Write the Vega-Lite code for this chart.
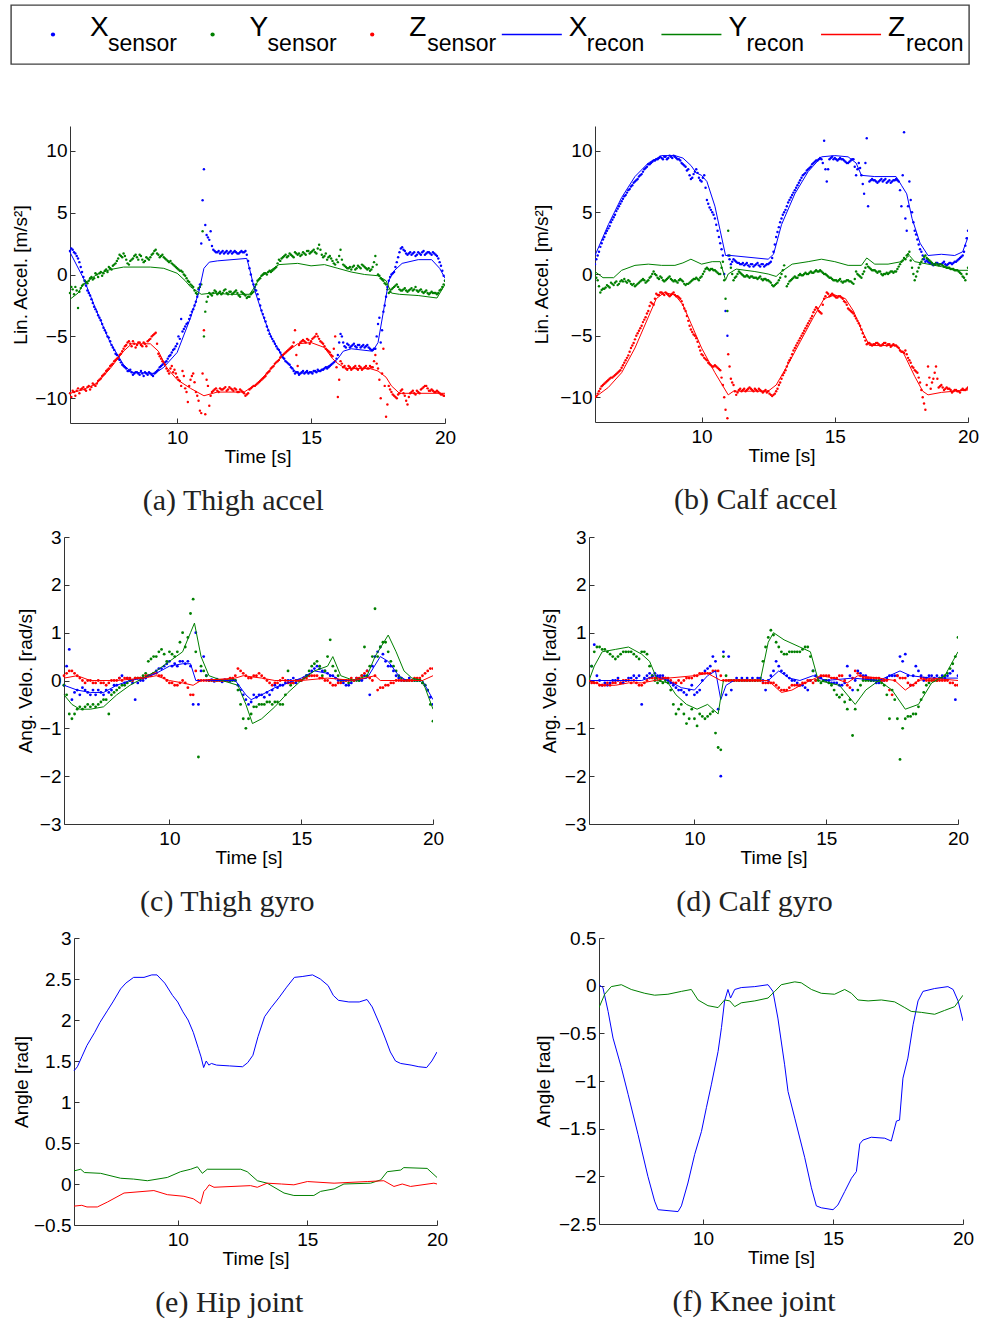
{
"$schema": "https://vega.github.io/schema/vega-lite/v6.json",
"background": "white",
"padding": {"left": 10, "top": 4, "right": 4, "bottom": 4},
"config": {
  "font": "Liberation Sans",
  "view": {"stroke": null},
  "axis": {"grid": false, "domainColor": "#333", "tickColor": "#333", "labelColor": "#000", "titleColor": "#000", "labelFont": "Liberation Sans", "titleFont": "Liberation Sans", "labelFontSize": 19, "titleFontSize": 19, "titleFontWeight": "normal", "tickSize": -5, "labelFlush": false, "labelOverlap": false, "format": "~g"},
  "axisX": {"labelPadding": 10, "titlePadding": 0},
  "axisY": {"labelPadding": 8},
  "title": {"font": "Liberation Serif", "fontSize": 30, "fontWeight": "normal", "color": "#222", "orient": "bottom", "anchor": "middle", "frame": "bounds", "offset": 20}
},
"datasets": {
"leg": [{"i":0,"c":"X","s":"sensor","g":"s"},{"i":1,"c":"Y","s":"sensor","g":"s"},{"i":2,"c":"Z","s":"sensor","g":"s"},{"i":3,"c":"X","s":"recon","g":"r"},{"i":4,"c":"Y","s":"recon","g":"r"},{"i":5,"c":"Z","s":"recon","g":"r"}],
"a_s": [
{"t":6.0,"X":1.9,"Y":-1.5,"Z":-9.6},{"t":6.1,"X":2.0,"Y":-1.2,"Z":-9.4},{"t":6.2,"X":1.7,"Y":-1.0,"Z":-9.8},{"t":6.3,"X":1.3,"Y":-2.7,"Z":-9.2},{"t":6.4,"X":0.6,"Y":-1.1,"Z":-9.3},{"t":6.5,"X":-0.2,"Y":-0.8,"Z":-9.1},{"t":6.6,"X":-0.9,"Y":-0.6,"Z":-9.4},{"t":6.7,"X":-1.5,"Y":-0.5,"Z":-9.0},{"t":6.8,"X":-2.0,"Y":-0.2,"Z":-9.1},{"t":6.9,"X":-2.6,"Y":-0.3,"Z":-8.9},
{"t":7.0,"X":-3.0,"Y":0.0,"Z":-8.8},{"t":7.1,"X":-3.5,"Y":0.1,"Z":-8.5},{"t":7.2,"X":-4.0,"Y":-0.1,"Z":-8.2},{"t":7.3,"X":-4.5,"Y":0.3,"Z":-8.0},{"t":7.4,"X":-5.0,"Y":0.2,"Z":-7.7},{"t":7.5,"X":-5.4,"Y":0.5,"Z":-7.4},{"t":7.6,"X":-5.9,"Y":0.7,"Z":-7.2},{"t":7.7,"X":-6.4,"Y":0.9,"Z":-6.9},{"t":7.8,"X":-6.8,"Y":1.3,"Z":-6.7},{"t":7.9,"X":-7.1,"Y":1.5,"Z":-6.4},
{"t":8.0,"X":-7.4,"Y":1.7,"Z":-6.0},{"t":8.1,"X":-7.6,"Y":1.2,"Z":-5.7},{"t":8.2,"X":-7.8,"Y":0.8,"Z":-5.4},{"t":8.3,"X":-7.9,"Y":1.2,"Z":-5.8},{"t":8.4,"X":-8.0,"Y":1.5,"Z":-5.6},{"t":8.5,"X":-7.9,"Y":1.4,"Z":-5.7},{"t":8.6,"X":-8.1,"Y":1.6,"Z":-5.5},{"t":8.7,"X":-8.0,"Y":1.2,"Z":-5.8},{"t":8.8,"X":-7.9,"Y":1.1,"Z":-5.6},{"t":8.9,"X":-8.1,"Y":1.3,"Z":-5.4},
{"t":9.0,"X":-8.0,"Y":1.4,"Z":-5.2},{"t":9.1,"X":-8.2,"Y":1.7,"Z":-4.9},{"t":9.2,"X":-7.9,"Y":2.0,"Z":-4.7},{"t":9.3,"X":-7.7,"Y":1.6,"Z":-6.4},{"t":9.4,"X":-7.4,"Y":1.5,"Z":-6.8},{"t":9.5,"X":-7.2,"Y":1.4,"Z":-7.1},{"t":9.6,"X":-7.0,"Y":1.2,"Z":-7.6},{"t":9.7,"X":-6.6,"Y":1.0,"Z":-8.0},{"t":9.8,"X":-6.3,"Y":0.9,"Z":-7.4},{"t":9.9,"X":-6.0,"Y":0.7,"Z":-7.7},
{"t":10.0,"X":-5.6,"Y":0.5,"Z":-8.3},{"t":10.1,"X":-5.2,"Y":0.3,"Z":-8.6},{"t":10.2,"X":-4.6,"Y":0.2,"Z":-7.8},{"t":10.3,"X":-4.2,"Y":-0.1,"Z":-9.2},{"t":10.4,"X":-3.9,"Y":-0.5,"Z":-10.3},{"t":10.5,"X":-3.3,"Y":-0.8,"Z":-8.5},{"t":10.6,"X":-2.8,"Y":-1.0,"Z":-8.0},{"t":10.7,"X":-2.2,"Y":-1.5,"Z":-9.5},{"t":10.8,"X":-1.2,"Y":-1.1,"Z":-10.2},{"t":10.9,"X":2.5,"Y":-0.8,"Z":-11.2},
{"t":10.95,"X":6.0,"Y":3.5,"Z":-8.0},{"t":11.0,"X":8.5,"Y":-5.0,"Z":-4.5},{"t":11.05,"X":4.0,"Y":-3.0,"Z":-11.3},
{"t":11.1,"X":3.2,"Y":-2.2,"Z":-8.5},{"t":11.2,"X":2.8,"Y":-1.5,"Z":-10.6},{"t":11.3,"X":2.3,"Y":-1.7,"Z":-9.5},{"t":11.4,"X":1.9,"Y":-1.3,"Z":-9.3},{"t":11.5,"X":1.8,"Y":-1.6,"Z":-9.4},{"t":11.6,"X":1.7,"Y":-1.4,"Z":-9.2},{"t":11.7,"X":1.9,"Y":-1.5,"Z":-9.3},{"t":11.8,"X":1.8,"Y":-1.2,"Z":-9.1},{"t":11.9,"X":1.7,"Y":-1.6,"Z":-9.3},
{"t":12.0,"X":1.9,"Y":-1.4,"Z":-9.2},{"t":12.1,"X":1.8,"Y":-1.5,"Z":-9.4},{"t":12.2,"X":1.8,"Y":-1.3,"Z":-9.3},{"t":12.3,"X":1.7,"Y":-1.7,"Z":-9.5},{"t":12.4,"X":1.9,"Y":-1.4,"Z":-9.4},{"t":12.5,"X":1.8,"Y":-1.6,"Z":-9.6},{"t":12.6,"X":1.6,"Y":-1.9,"Z":-9.7},{"t":12.7,"X":0.5,"Y":-1.8,"Z":-9.3},{"t":12.8,"X":-0.5,"Y":-1.5,"Z":-9.1},{"t":12.9,"X":-1.0,"Y":-1.2,"Z":-9.0},
{"t":13.0,"X":-1.6,"Y":-0.5,"Z":-8.8},{"t":13.1,"X":-2.5,"Y":-0.3,"Z":-8.6},{"t":13.2,"X":-3.2,"Y":0.0,"Z":-8.4},{"t":13.3,"X":-3.8,"Y":0.1,"Z":-8.2},{"t":13.4,"X":-4.5,"Y":0.2,"Z":-7.9},{"t":13.5,"X":-5.0,"Y":0.2,"Z":-7.6},{"t":13.6,"X":-5.4,"Y":0.4,"Z":-7.4},{"t":13.7,"X":-5.8,"Y":0.6,"Z":-7.1},{"t":13.8,"X":-6.1,"Y":1.2,"Z":-6.9},{"t":13.9,"X":-6.5,"Y":1.3,"Z":-6.6},
{"t":14.0,"X":-6.8,"Y":1.5,"Z":-6.4},{"t":14.1,"X":-7.1,"Y":1.4,"Z":-6.2},{"t":14.2,"X":-7.3,"Y":1.7,"Z":-6.0},{"t":14.3,"X":-7.6,"Y":1.5,"Z":-5.8},{"t":14.4,"X":-8.0,"Y":1.8,"Z":-4.5},{"t":14.5,"X":-7.9,"Y":1.6,"Z":-7.4},{"t":14.6,"X":-8.0,"Y":1.5,"Z":-5.5},{"t":14.7,"X":-7.8,"Y":1.8,"Z":-5.3},{"t":14.8,"X":-7.9,"Y":1.6,"Z":-5.5},{"t":14.9,"X":-8.0,"Y":1.9,"Z":-5.3},
{"t":15.0,"X":-7.9,"Y":1.8,"Z":-5.4},{"t":15.1,"X":-7.8,"Y":2.0,"Z":-5.1},{"t":15.2,"X":-7.9,"Y":1.7,"Z":-4.8},{"t":15.3,"X":-7.8,"Y":2.4,"Z":-5.2},{"t":15.4,"X":-7.7,"Y":1.6,"Z":-5.5},{"t":15.5,"X":-7.6,"Y":1.5,"Z":-5.8},{"t":15.6,"X":-7.6,"Y":1.2,"Z":-6.1},{"t":15.7,"X":-7.4,"Y":1.5,"Z":-6.3},{"t":15.8,"X":-7.2,"Y":1.1,"Z":-6.6},{"t":15.9,"X":-7.0,"Y":0.8,"Z":-5.0},
{"t":16.0,"X":-6.5,"Y":1.0,"Z":-9.9},{"t":16.1,"X":-4.8,"Y":2.0,"Z":-7.0},{"t":16.2,"X":-5.5,"Y":0.8,"Z":-7.5},{"t":16.3,"X":-5.9,"Y":0.6,"Z":-7.6},{"t":16.4,"X":-5.7,"Y":0.5,"Z":-7.4},{"t":16.5,"X":-5.8,"Y":0.4,"Z":-7.7},{"t":16.6,"X":-5.6,"Y":0.7,"Z":-7.5},{"t":16.7,"X":-5.9,"Y":0.5,"Z":-7.6},{"t":16.8,"X":-5.7,"Y":0.6,"Z":-7.4},{"t":16.9,"X":-5.8,"Y":0.8,"Z":-7.7},
{"t":17.0,"X":-5.9,"Y":0.6,"Z":-7.5},{"t":17.1,"X":-5.7,"Y":0.4,"Z":-7.6},{"t":17.2,"X":-6.0,"Y":0.3,"Z":-7.4},{"t":17.3,"X":-6.1,"Y":0.6,"Z":-7.5},{"t":17.4,"X":-6.0,"Y":1.5,"Z":-6.5},{"t":17.5,"X":-4.0,"Y":0.0,"Z":-7.6},{"t":17.6,"X":-5.5,"Y":-0.3,"Z":-10.0},{"t":17.7,"X":-3.0,"Y":-0.5,"Z":-6.0},{"t":17.8,"X":-1.8,"Y":-0.8,"Z":-11.5},{"t":17.9,"X":-0.5,"Y":-1.5,"Z":-9.0},
{"t":18.0,"X":0.0,"Y":-1.2,"Z":-9.5},{"t":18.1,"X":0.2,"Y":-1.0,"Z":-9.8},{"t":18.2,"X":1.0,"Y":-0.8,"Z":-10.0},{"t":18.3,"X":1.8,"Y":-1.2,"Z":-9.6},{"t":18.4,"X":2.2,"Y":-1.3,"Z":-9.3},{"t":18.5,"X":1.9,"Y":-1.1,"Z":-9.8},{"t":18.6,"X":1.6,"Y":-1.4,"Z":-10.5},{"t":18.7,"X":1.8,"Y":-1.2,"Z":-9.6},{"t":18.8,"X":1.7,"Y":-1.3,"Z":-9.4},{"t":18.9,"X":1.5,"Y":-1.0,"Z":-9.7},
{"t":19.0,"X":1.8,"Y":-1.4,"Z":-9.5},{"t":19.1,"X":1.6,"Y":-1.2,"Z":-9.3},{"t":19.2,"X":1.9,"Y":-1.5,"Z":-9.1},{"t":19.3,"X":1.7,"Y":-1.3,"Z":-9.0},{"t":19.4,"X":1.8,"Y":-1.6,"Z":-9.4},{"t":19.5,"X":1.6,"Y":-1.4,"Z":-9.3},{"t":19.6,"X":1.7,"Y":-1.5,"Z":-9.5},{"t":19.7,"X":1.5,"Y":-1.6,"Z":-9.4},{"t":19.8,"X":1.0,"Y":-1.3,"Z":-9.6},{"t":19.9,"X":0.3,"Y":-1.0,"Z":-9.7},
{"t":20.0,"X":-0.5,"Y":-0.5,"Z":-9.8},
{"t":6.05,"X":2.1,"Y":-1.0,"Z":-9.9},{"t":6.15,"X":1.8,"Y":-1.6,"Z":-9.5},{"t":6.25,"X":1.5,"Y":-1.3,"Z":-9.4},{"t":6.35,"X":1.0,"Y":-1.4,"Z":-9.6},{"t":6.45,"X":0.2,"Y":-0.9,"Z":-9.2},{"t":6.55,"X":-0.5,"Y":-0.5,"Z":-9.3},{"t":6.65,"X":-1.3,"Y":-0.7,"Z":-9.1},{"t":6.75,"X":-1.7,"Y":-0.3,"Z":-9.3},{"t":6.85,"X":-2.3,"Y":-0.4,"Z":-8.8},{"t":6.95,"X":-2.8,"Y":0.1,"Z":-9.0},
{"t":7.05,"X":-3.3,"Y":-0.2,"Z":-8.6},{"t":7.15,"X":-3.7,"Y":0.2,"Z":-8.4},{"t":7.25,"X":-4.3,"Y":0.1,"Z":-8.1},{"t":7.35,"X":-4.7,"Y":0.4,"Z":-7.8},{"t":7.45,"X":-5.1,"Y":0.6,"Z":-7.6},{"t":7.55,"X":-5.7,"Y":0.4,"Z":-7.3},{"t":7.65,"X":-6.1,"Y":0.8,"Z":-7.0},{"t":7.75,"X":-6.5,"Y":1.1,"Z":-6.8},{"t":7.85,"X":-6.9,"Y":1.6,"Z":-6.5},{"t":7.95,"X":-7.3,"Y":1.4,"Z":-6.2},
{"t":8.05,"X":-7.5,"Y":1.5,"Z":-5.8},{"t":8.15,"X":-7.8,"Y":0.9,"Z":-5.5},{"t":8.25,"X":-7.7,"Y":1.1,"Z":-5.6},{"t":8.35,"X":-8.1,"Y":1.3,"Z":-5.4},{"t":8.45,"X":-7.9,"Y":1.6,"Z":-5.9},{"t":8.55,"X":-8.0,"Y":1.2,"Z":-5.5},{"t":8.65,"X":-7.8,"Y":1.5,"Z":-5.7},{"t":8.75,"X":-8.2,"Y":1.0,"Z":-5.5},{"t":8.85,"X":-8.0,"Y":1.4,"Z":-5.8},{"t":8.95,"X":-7.9,"Y":1.2,"Z":-5.3},
{"t":9.05,"X":-8.1,"Y":1.6,"Z":-5.0},{"t":9.15,"X":-8.0,"Y":1.9,"Z":-4.8},{"t":9.25,"X":-7.8,"Y":1.7,"Z":-5.6},{"t":9.35,"X":-7.5,"Y":1.4,"Z":-6.6},{"t":9.45,"X":-7.3,"Y":1.6,"Z":-7.0},{"t":9.55,"X":-7.1,"Y":1.3,"Z":-7.3},{"t":9.65,"X":-6.8,"Y":1.1,"Z":-7.8},{"t":9.75,"X":-6.5,"Y":1.1,"Z":-7.6},{"t":9.85,"X":-6.1,"Y":0.8,"Z":-7.9},{"t":9.95,"X":-5.8,"Y":0.6,"Z":-8.0},
{"t":10.05,"X":-5.0,"Y":0.4,"Z":-8.5},{"t":10.15,"X":-3.6,"Y":0.3,"Z":-9.0},{"t":10.25,"X":-4.4,"Y":0.0,"Z":-8.2},{"t":10.35,"X":-4.0,"Y":-0.3,"Z":-9.5},{"t":10.45,"X":-3.6,"Y":-0.6,"Z":-9.0},{"t":10.55,"X":-3.0,"Y":-0.9,"Z":-8.2},{"t":10.65,"X":-2.5,"Y":-1.3,"Z":-8.7},{"t":10.75,"X":-1.8,"Y":-1.6,"Z":-9.8},{"t":10.85,"X":-0.8,"Y":-1.0,"Z":-11.0},
{"t":11.15,"X":3.0,"Y":-1.8,"Z":-9.0},{"t":11.25,"X":3.5,"Y":-1.6,"Z":-9.8},{"t":11.35,"X":2.0,"Y":-1.5,"Z":-9.4},{"t":11.45,"X":1.8,"Y":-1.4,"Z":-9.2},{"t":11.55,"X":1.9,"Y":-1.5,"Z":-9.5},{"t":11.65,"X":1.8,"Y":-1.6,"Z":-9.3},{"t":11.75,"X":1.7,"Y":-1.3,"Z":-9.2},{"t":11.85,"X":1.9,"Y":-1.5,"Z":-9.4},{"t":11.95,"X":1.8,"Y":-1.4,"Z":-9.1},
{"t":12.05,"X":1.7,"Y":-1.6,"Z":-9.3},{"t":12.15,"X":1.9,"Y":-1.4,"Z":-9.2},{"t":12.25,"X":1.7,"Y":-1.5,"Z":-9.5},{"t":12.35,"X":1.8,"Y":-1.8,"Z":-9.3},{"t":12.45,"X":1.8,"Y":-1.5,"Z":-9.5},{"t":12.55,"X":1.9,"Y":-1.7,"Z":-9.8},{"t":12.65,"X":1.1,"Y":-1.8,"Z":-9.6},{"t":12.75,"X":0.0,"Y":-1.6,"Z":-9.2},{"t":12.85,"X":-0.8,"Y":-1.4,"Z":-9.0},{"t":12.95,"X":-1.3,"Y":-0.8,"Z":-8.9},
{"t":13.05,"X":-2.0,"Y":-0.4,"Z":-8.7},{"t":13.15,"X":-2.9,"Y":-0.1,"Z":-8.5},{"t":13.25,"X":-3.5,"Y":0.1,"Z":-8.3},{"t":13.35,"X":-4.2,"Y":0.0,"Z":-8.0},{"t":13.45,"X":-4.8,"Y":0.3,"Z":-7.8},{"t":13.55,"X":-5.2,"Y":0.3,"Z":-7.5},{"t":13.65,"X":-5.6,"Y":0.5,"Z":-7.2},{"t":13.75,"X":-6.0,"Y":0.9,"Z":-7.0},{"t":13.85,"X":-6.3,"Y":1.1,"Z":-6.7},{"t":13.95,"X":-6.7,"Y":1.4,"Z":-6.5},
{"t":14.05,"X":-7.0,"Y":1.6,"Z":-6.3},{"t":14.15,"X":-7.2,"Y":1.5,"Z":-6.1},{"t":14.25,"X":-7.5,"Y":1.6,"Z":-5.9},{"t":14.35,"X":-7.8,"Y":1.4,"Z":-5.5},{"t":14.45,"X":-7.9,"Y":1.7,"Z":-6.5},{"t":14.55,"X":-8.1,"Y":1.7,"Z":-5.7},{"t":14.65,"X":-7.9,"Y":1.6,"Z":-5.4},{"t":14.75,"X":-8.0,"Y":1.7,"Z":-5.4},{"t":14.85,"X":-7.8,"Y":1.9,"Z":-5.2},{"t":14.95,"X":-7.9,"Y":1.7,"Z":-5.6},
{"t":15.05,"X":-8.0,"Y":1.9,"Z":-5.2},{"t":15.15,"X":-7.8,"Y":1.8,"Z":-5.0},{"t":15.25,"X":-7.7,"Y":2.1,"Z":-5.0},{"t":15.35,"X":-7.8,"Y":2.0,"Z":-5.4},{"t":15.45,"X":-7.7,"Y":1.4,"Z":-5.6},{"t":15.55,"X":-7.5,"Y":1.7,"Z":-6.0},{"t":15.65,"X":-7.5,"Y":1.4,"Z":-6.2},{"t":15.75,"X":-7.3,"Y":1.3,"Z":-6.5},{"t":15.85,"X":-7.1,"Y":0.9,"Z":-6.0},{"t":15.95,"X":-6.8,"Y":1.2,"Z":-7.5},
{"t":16.05,"X":-5.5,"Y":1.5,"Z":-8.5},{"t":16.15,"X":-5.0,"Y":1.2,"Z":-7.2},{"t":16.25,"X":-5.8,"Y":0.7,"Z":-7.4},{"t":16.35,"X":-5.6,"Y":0.5,"Z":-7.7},{"t":16.45,"X":-5.9,"Y":0.6,"Z":-7.5},{"t":16.55,"X":-5.7,"Y":0.6,"Z":-7.6},{"t":16.65,"X":-5.8,"Y":0.4,"Z":-7.4},{"t":16.75,"X":-5.7,"Y":0.7,"Z":-7.7},{"t":16.85,"X":-5.9,"Y":0.5,"Z":-7.5},{"t":16.95,"X":-5.7,"Y":0.7,"Z":-7.6},
{"t":17.05,"X":-5.8,"Y":0.5,"Z":-7.4},{"t":17.15,"X":-5.9,"Y":0.5,"Z":-7.6},{"t":17.25,"X":-6.1,"Y":0.4,"Z":-7.5},{"t":17.35,"X":-6.0,"Y":1.0,"Z":-7.0},{"t":17.45,"X":-5.0,"Y":0.8,"Z":-7.2},{"t":17.55,"X":-3.5,"Y":-0.1,"Z":-8.5},{"t":17.65,"X":-4.5,"Y":-0.4,"Z":-8.0},{"t":17.75,"X":-2.5,"Y":-0.7,"Z":-9.0},{"t":17.85,"X":-1.0,"Y":-1.2,"Z":-10.5},{"t":17.95,"X":-0.2,"Y":-1.4,"Z":-9.3},
{"t":18.05,"X":0.1,"Y":-1.1,"Z":-9.7},{"t":18.15,"X":0.6,"Y":-0.9,"Z":-9.9},{"t":18.25,"X":1.4,"Y":-1.0,"Z":-9.7},{"t":18.35,"X":2.1,"Y":-1.3,"Z":-9.4},{"t":18.45,"X":2.0,"Y":-1.2,"Z":-9.6},{"t":18.55,"X":1.7,"Y":-1.3,"Z":-10.2},{"t":18.65,"X":1.7,"Y":-1.3,"Z":-9.9},{"t":18.75,"X":1.6,"Y":-1.1,"Z":-9.5},{"t":18.85,"X":1.8,"Y":-1.2,"Z":-9.6},{"t":18.95,"X":1.6,"Y":-1.3,"Z":-9.4},
{"t":19.05,"X":1.7,"Y":-1.3,"Z":-9.6},{"t":19.15,"X":1.8,"Y":-1.4,"Z":-9.2},{"t":19.25,"X":1.6,"Y":-1.4,"Z":-9.0},{"t":19.35,"X":1.8,"Y":-1.5,"Z":-9.2},{"t":19.45,"X":1.7,"Y":-1.5,"Z":-9.4},{"t":19.55,"X":1.8,"Y":-1.5,"Z":-9.4},{"t":19.65,"X":1.6,"Y":-1.5,"Z":-9.5},{"t":19.75,"X":1.3,"Y":-1.5,"Z":-9.5},{"t":19.85,"X":0.7,"Y":-1.2,"Z":-9.7},{"t":19.95,"X":-0.1,"Y":-0.8,"Z":-9.8}
],
"a_r": [
{"t":6,"k":"X","v":1.8},{"t":6.5,"k":"X","v":-0.3},{"t":7,"k":"X","v":-3.0},{"t":7.5,"k":"X","v":-5.5},{"t":8,"k":"X","v":-7.3},{"t":8.3,"k":"X","v":-7.9},{"t":9.2,"k":"X","v":-8.0},{"t":9.3,"k":"X","v":-7.8},{"t":9.5,"k":"X","v":-7.5},{"t":10,"k":"X","v":-6.3},{"t":10.5,"k":"X","v":-3.5},{"t":10.8,"k":"X","v":-1.5},{"t":11,"k":"X","v":0.5},{"t":11.2,"k":"X","v":1.0},{"t":11.5,"k":"X","v":1.1},{"t":12.6,"k":"X","v":1.3},{"t":12.7,"k":"X","v":0.5},{"t":12.9,"k":"X","v":-1.3},{"t":13.2,"k":"X","v":-3.3},{"t":13.5,"k":"X","v":-5.0},{"t":14,"k":"X","v":-6.9},{"t":14.5,"k":"X","v":-8.0},{"t":15,"k":"X","v":-7.9},{"t":15.3,"k":"X","v":-7.8},{"t":15.8,"k":"X","v":-7.2},{"t":16,"k":"X","v":-6.8},{"t":16.2,"k":"X","v":-6.2},{"t":16.5,"k":"X","v":-6.0},{"t":17.3,"k":"X","v":-6.2},{"t":17.5,"k":"X","v":-5.5},{"t":17.7,"k":"X","v":-3.0},{"t":17.9,"k":"X","v":-0.5},{"t":18.1,"k":"X","v":0.3},{"t":18.4,"k":"X","v":0.9},{"t":19,"k":"X","v":1.2},{"t":19.5,"k":"X","v":1.2},{"t":19.8,"k":"X","v":0.5},{"t":20,"k":"X","v":-0.3},
{"t":6,"k":"Y","v":-2.0},{"t":6.3,"k":"Y","v":-1.5},{"t":6.5,"k":"Y","v":-0.8},{"t":7,"k":"Y","v":0.0},{"t":7.5,"k":"Y","v":0.4},{"t":8,"k":"Y","v":0.6},{"t":9,"k":"Y","v":0.6},{"t":9.5,"k":"Y","v":0.5},{"t":10,"k":"Y","v":0.1},{"t":10.3,"k":"Y","v":-0.5},{"t":10.5,"k":"Y","v":-1.0},{"t":10.7,"k":"Y","v":-1.3},{"t":10.9,"k":"Y","v":-1.6},{"t":11.3,"k":"Y","v":-1.5},{"t":12,"k":"Y","v":-1.6},{"t":12.7,"k":"Y","v":-1.6},{"t":12.9,"k":"Y","v":-1.0},{"t":13.1,"k":"Y","v":-0.2},{"t":13.4,"k":"Y","v":0.2},{"t":13.8,"k":"Y","v":0.8},{"t":14.5,"k":"Y","v":0.9},{"t":15,"k":"Y","v":0.7},{"t":15.5,"k":"Y","v":0.8},{"t":16,"k":"Y","v":0.5},{"t":16.5,"k":"Y","v":0.2},{"t":17,"k":"Y","v":0.0},{"t":17.5,"k":"Y","v":-0.1},{"t":17.8,"k":"Y","v":-0.5},{"t":18,"k":"Y","v":-1.5},{"t":18.3,"k":"Y","v":-1.6},{"t":19,"k":"Y","v":-1.7},{"t":19.7,"k":"Y","v":-1.9},{"t":20,"k":"Y","v":-0.8},
{"t":6,"k":"Z","v":-9.6},{"t":6.5,"k":"Z","v":-9.3},{"t":7,"k":"Z","v":-8.8},{"t":7.5,"k":"Z","v":-7.6},{"t":8,"k":"Z","v":-6.2},{"t":8.3,"k":"Z","v":-5.6},{"t":9,"k":"Z","v":-5.6},{"t":9.3,"k":"Z","v":-6.2},{"t":9.6,"k":"Z","v":-7.5},{"t":10,"k":"Z","v":-8.5},{"t":10.5,"k":"Z","v":-9.2},{"t":11,"k":"Z","v":-9.8},{"t":11.5,"k":"Z","v":-9.5},{"t":12.5,"k":"Z","v":-9.5},{"t":13,"k":"Z","v":-8.8},{"t":13.5,"k":"Z","v":-7.6},{"t":14,"k":"Z","v":-6.4},{"t":14.5,"k":"Z","v":-5.6},{"t":15,"k":"Z","v":-5.5},{"t":15.5,"k":"Z","v":-5.9},{"t":15.8,"k":"Z","v":-6.8},{"t":16,"k":"Z","v":-7.2},{"t":16.3,"k":"Z","v":-7.6},{"t":17.2,"k":"Z","v":-7.6},{"t":17.5,"k":"Z","v":-7.8},{"t":17.8,"k":"Z","v":-8.3},{"t":18,"k":"Z","v":-9.0},{"t":18.3,"k":"Z","v":-9.6},{"t":19,"k":"Z","v":-9.6},{"t":20,"k":"Z","v":-9.6}
],
"b_s": [
{"t":6.0,"X":0.8,"Y":0.0,"Z":-10.0},{"t":6.1,"X":1.5,"Y":-0.5,"Z":-9.7},{"t":6.2,"X":2.2,"Y":-1.5,"Z":-9.3},{"t":6.3,"X":2.8,"Y":-1.2,"Z":-9.0},{"t":6.4,"X":3.3,"Y":-1.1,"Z":-8.8},{"t":6.5,"X":3.7,"Y":-1.0,"Z":-8.6},{"t":6.6,"X":4.2,"Y":-0.7,"Z":-8.4},{"t":6.7,"X":4.6,"Y":-0.9,"Z":-8.3},{"t":6.8,"X":5.1,"Y":-0.6,"Z":-8.1},{"t":6.9,"X":5.5,"Y":-0.8,"Z":-7.9},
{"t":7.0,"X":5.9,"Y":-0.5,"Z":-7.6},{"t":7.1,"X":6.3,"Y":-0.4,"Z":-7.2},{"t":7.2,"X":6.6,"Y":-0.7,"Z":-6.8},{"t":7.3,"X":6.9,"Y":-0.6,"Z":-6.3},{"t":7.4,"X":7.2,"Y":-0.9,"Z":-5.8},{"t":7.5,"X":7.5,"Y":-1.0,"Z":-5.3},{"t":7.6,"X":7.7,"Y":-0.8,"Z":-4.8},{"t":7.7,"X":8.0,"Y":-0.6,"Z":-4.4},{"t":7.8,"X":8.3,"Y":-0.4,"Z":-3.9},{"t":7.9,"X":8.6,"Y":-0.7,"Z":-3.5},
{"t":8.0,"X":8.9,"Y":-0.5,"Z":-3.0},{"t":8.1,"X":9.0,"Y":-0.2,"Z":-2.3},{"t":8.2,"X":9.2,"Y":0.2,"Z":-2.5},{"t":8.3,"X":9.3,"Y":-0.1,"Z":-1.6},{"t":8.4,"X":9.4,"Y":-0.4,"Z":-1.7},{"t":8.5,"X":9.4,"Y":-0.3,"Z":-1.5},{"t":8.6,"X":9.5,"Y":-0.6,"Z":-1.7},{"t":8.7,"X":9.3,"Y":-0.4,"Z":-1.6},{"t":8.8,"X":9.6,"Y":-0.2,"Z":-1.8},{"t":8.9,"X":9.4,"Y":-0.5,"Z":-1.6},
{"t":9.0,"X":9.5,"Y":-0.5,"Z":-1.7},{"t":9.1,"X":9.3,"Y":-0.7,"Z":-1.8},{"t":9.2,"X":9.2,"Y":-0.4,"Z":-2.0},{"t":9.3,"X":8.9,"Y":-0.6,"Z":-2.5},{"t":9.4,"X":8.7,"Y":-0.9,"Z":-3.0},{"t":9.5,"X":8.5,"Y":-0.8,"Z":-3.8},{"t":9.6,"X":7.7,"Y":-0.6,"Z":-4.5},{"t":9.7,"X":8.1,"Y":-0.4,"Z":-4.9},{"t":9.8,"X":8.5,"Y":-0.3,"Z":-5.2},{"t":9.9,"X":7.8,"Y":-0.5,"Z":-5.9},
{"t":10.0,"X":7.5,"Y":-0.2,"Z":-6.5},{"t":10.1,"X":8.0,"Y":0.2,"Z":-6.8},{"t":10.2,"X":6.0,"Y":0.5,"Z":-7.0},{"t":10.3,"X":5.4,"Y":0.3,"Z":-7.3},{"t":10.4,"X":5.0,"Y":0.4,"Z":-7.5},{"t":10.5,"X":4.5,"Y":0.3,"Z":-7.4},{"t":10.6,"X":3.5,"Y":0.1,"Z":-7.6},{"t":10.7,"X":2.5,"Y":0.0,"Z":-7.8},{"t":10.8,"X":1.5,"Y":1.0,"Z":-9.0},{"t":10.9,"X":-3.0,"Y":-2.0,"Z":-11.0},
{"t":10.97,"X":-5.0,"Y":-3.0,"Z":-11.7},{"t":11.0,"X":1.5,"Y":3.5,"Z":-6.5},{"t":11.1,"X":0.8,"Y":0.5,"Z":-8.5},{"t":11.2,"X":1.2,"Y":-0.5,"Z":-9.0},{"t":11.3,"X":1.0,"Y":-0.2,"Z":-9.8},{"t":11.4,"X":0.9,"Y":0.2,"Z":-9.4},{"t":11.5,"X":0.8,"Y":0.0,"Z":-9.5},{"t":11.6,"X":0.7,"Y":-0.2,"Z":-9.3},{"t":11.7,"X":0.9,"Y":-0.1,"Z":-9.4},{"t":11.8,"X":0.6,"Y":-0.3,"Z":-9.2},{"t":11.9,"X":0.8,"Y":-0.2,"Z":-9.4},
{"t":12.0,"X":0.7,"Y":-0.3,"Z":-9.3},{"t":12.1,"X":0.9,"Y":-0.4,"Z":-9.5},{"t":12.2,"X":0.6,"Y":-0.2,"Z":-9.4},{"t":12.3,"X":0.8,"Y":-0.5,"Z":-9.6},{"t":12.4,"X":0.7,"Y":-0.4,"Z":-9.4},{"t":12.5,"X":0.8,"Y":-0.5,"Z":-9.5},{"t":12.6,"X":1.0,"Y":-0.7,"Z":-9.8},{"t":12.7,"X":1.8,"Y":-1.0,"Z":-9.8},{"t":12.8,"X":3.0,"Y":-0.8,"Z":-9.5},{"t":12.9,"X":3.8,"Y":-0.5,"Z":-9.0},
{"t":13.0,"X":4.5,"Y":0.0,"Z":-8.5},{"t":13.1,"X":5.0,"Y":0.7,"Z":-8.0},{"t":13.2,"X":5.5,"Y":-1.0,"Z":-7.5},{"t":13.3,"X":6.0,"Y":-0.6,"Z":-7.0},{"t":13.4,"X":6.4,"Y":-0.4,"Z":-6.5},{"t":13.5,"X":6.8,"Y":-0.2,"Z":-6.0},{"t":13.6,"X":7.2,"Y":-0.3,"Z":-5.6},{"t":13.7,"X":7.6,"Y":0.0,"Z":-5.2},{"t":13.8,"X":8.0,"Y":-0.1,"Z":-4.8},{"t":13.9,"X":8.2,"Y":0.1,"Z":-4.4},
{"t":14.0,"X":8.5,"Y":0.0,"Z":-4.0},{"t":14.1,"X":8.7,"Y":0.2,"Z":-3.6},{"t":14.2,"X":9.0,"Y":0.1,"Z":-3.1},{"t":14.3,"X":9.2,"Y":0.3,"Z":-2.7},{"t":14.4,"X":9.3,"Y":0.2,"Z":-3.0},{"t":14.5,"X":9.3,"Y":0.2,"Z":-3.2},{"t":14.6,"X":10.8,"Y":0.0,"Z":-2.0},{"t":14.7,"X":7.5,"Y":-0.1,"Z":-1.5},{"t":14.8,"X":9.3,"Y":-0.3,"Z":-1.8},{"t":14.9,"X":9.5,"Y":-0.4,"Z":-1.6},
{"t":15.0,"X":9.4,"Y":-0.5,"Z":-1.8},{"t":15.1,"X":9.2,"Y":-0.6,"Z":-1.9},{"t":15.2,"X":9.4,"Y":-0.4,"Z":-1.8},{"t":15.3,"X":9.3,"Y":-0.7,"Z":-2.0},{"t":15.4,"X":9.1,"Y":-0.6,"Z":-2.3},{"t":15.5,"X":9.0,"Y":-0.5,"Z":-2.8},{"t":15.6,"X":9.2,"Y":-0.6,"Z":-3.0},{"t":15.7,"X":9.3,"Y":-0.8,"Z":-3.2},{"t":15.8,"X":8.0,"Y":0.2,"Z":-3.6},{"t":15.9,"X":9.0,"Y":-0.1,"Z":-4.0},
{"t":16.0,"X":8.0,"Y":-0.3,"Z":-4.5},{"t":16.1,"X":6.5,"Y":0.2,"Z":-5.1},{"t":16.2,"X":11.0,"Y":0.8,"Z":-5.7},{"t":16.25,"X":5.5,"Y":0.6,"Z":-5.6},{"t":16.3,"X":7.5,"Y":0.5,"Z":-5.6},{"t":16.4,"X":7.7,"Y":0.3,"Z":-5.8},{"t":16.5,"X":7.6,"Y":0.3,"Z":-5.7},{"t":16.6,"X":7.4,"Y":0.1,"Z":-5.6},{"t":16.7,"X":7.6,"Y":0.2,"Z":-5.8},{"t":16.8,"X":7.5,"Y":-0.1,"Z":-5.7},{"t":16.9,"X":7.7,"Y":0.0,"Z":-5.6},
{"t":17.0,"X":7.5,"Y":0.0,"Z":-5.7},{"t":17.1,"X":7.4,"Y":0.2,"Z":-5.9},{"t":17.2,"X":7.6,"Y":0.1,"Z":-5.7},{"t":17.3,"X":7.7,"Y":0.2,"Z":-5.8},{"t":17.4,"X":7.5,"Y":0.6,"Z":-6.0},{"t":17.5,"X":5.5,"Y":1.0,"Z":-6.3},{"t":17.6,"X":11.5,"Y":1.3,"Z":-6.4},{"t":17.65,"X":4.5,"Y":1.2,"Z":-6.2},{"t":17.7,"X":3.5,"Y":1.5,"Z":-6.5},{"t":17.8,"X":7.5,"Y":1.8,"Z":-7.0},{"t":17.9,"X":5.0,"Y":0.5,"Z":-7.5},
{"t":18.0,"X":3.5,"Y":-0.5,"Z":-7.8},{"t":18.1,"X":2.8,"Y":0.2,"Z":-8.0},{"t":18.2,"X":2.0,"Y":0.8,"Z":-8.8},{"t":18.3,"X":1.5,"Y":1.2,"Z":-10.0},{"t":18.4,"X":1.0,"Y":1.5,"Z":-11.0},{"t":18.5,"X":1.0,"Y":1.2,"Z":-7.5},{"t":18.6,"X":0.9,"Y":1.0,"Z":-9.3},{"t":18.7,"X":0.7,"Y":0.8,"Z":-8.5},{"t":18.8,"X":0.9,"Y":0.9,"Z":-7.5},{"t":18.9,"X":0.8,"Y":0.7,"Z":-9.2},
{"t":19.0,"X":0.8,"Y":0.8,"Z":-9.0},{"t":19.1,"X":1.0,"Y":0.6,"Z":-9.4},{"t":19.2,"X":0.7,"Y":0.5,"Z":-9.2},{"t":19.3,"X":0.9,"Y":0.5,"Z":-9.3},{"t":19.4,"X":0.8,"Y":0.4,"Z":-9.6},{"t":19.5,"X":1.0,"Y":0.3,"Z":-9.4},{"t":19.6,"X":1.1,"Y":0.3,"Z":-9.5},{"t":19.7,"X":1.3,"Y":0.1,"Z":-9.6},{"t":19.8,"X":1.5,"Y":-0.2,"Z":-9.3},{"t":19.9,"X":2.3,"Y":-0.5,"Z":-9.4},
{"t":20.0,"X":3.5,"Y":0.5,"Z":-9.2},
{"t":6.05,"X":1.2,"Y":-0.3,"Z":-9.9},{"t":6.15,"X":1.8,"Y":-1.0,"Z":-9.5},{"t":6.25,"X":2.5,"Y":-1.3,"Z":-9.1},{"t":6.35,"X":3.0,"Y":-1.2,"Z":-8.9},{"t":6.45,"X":3.5,"Y":-0.9,"Z":-8.7},{"t":6.55,"X":3.9,"Y":-1.1,"Z":-8.5},{"t":6.65,"X":4.4,"Y":-0.8,"Z":-8.4},{"t":6.75,"X":4.8,"Y":-0.7,"Z":-8.2},{"t":6.85,"X":5.3,"Y":-0.9,"Z":-8.0},{"t":6.95,"X":5.7,"Y":-0.6,"Z":-7.8},
{"t":7.05,"X":6.1,"Y":-0.6,"Z":-7.4},{"t":7.15,"X":6.4,"Y":-0.6,"Z":-7.0},{"t":7.25,"X":6.8,"Y":-0.5,"Z":-6.6},{"t":7.35,"X":7.1,"Y":-0.8,"Z":-6.0},{"t":7.45,"X":7.4,"Y":-0.8,"Z":-5.6},{"t":7.55,"X":7.6,"Y":-0.9,"Z":-5.0},{"t":7.65,"X":7.9,"Y":-0.7,"Z":-4.6},{"t":7.75,"X":8.1,"Y":-0.5,"Z":-4.2},{"t":7.85,"X":8.5,"Y":-0.5,"Z":-3.7},{"t":7.95,"X":8.7,"Y":-0.6,"Z":-3.2},
{"t":8.05,"X":8.9,"Y":-0.3,"Z":-2.6},{"t":8.15,"X":9.1,"Y":0.0,"Z":-2.4},{"t":8.25,"X":9.2,"Y":0.0,"Z":-2.0},{"t":8.35,"X":9.3,"Y":-0.3,"Z":-1.7},{"t":8.45,"X":9.5,"Y":-0.2,"Z":-1.5},{"t":8.55,"X":9.3,"Y":-0.5,"Z":-1.6},{"t":8.65,"X":9.5,"Y":-0.5,"Z":-1.5},{"t":8.75,"X":9.4,"Y":-0.3,"Z":-1.7},{"t":8.85,"X":9.5,"Y":-0.4,"Z":-1.7},{"t":8.95,"X":9.6,"Y":-0.6,"Z":-1.5},
{"t":9.05,"X":9.4,"Y":-0.6,"Z":-1.8},{"t":9.15,"X":9.3,"Y":-0.5,"Z":-1.9},{"t":9.25,"X":9.0,"Y":-0.5,"Z":-2.2},{"t":9.35,"X":8.8,"Y":-0.8,"Z":-2.8},{"t":9.45,"X":8.4,"Y":-0.8,"Z":-3.4},{"t":9.55,"X":8.0,"Y":-0.7,"Z":-4.2},{"t":9.65,"X":7.8,"Y":-0.5,"Z":-4.7},{"t":9.75,"X":8.3,"Y":-0.4,"Z":-5.0},{"t":9.85,"X":8.2,"Y":-0.4,"Z":-5.5},{"t":9.95,"X":7.6,"Y":-0.3,"Z":-6.2},
{"t":10.05,"X":7.8,"Y":0.0,"Z":-6.6},{"t":10.15,"X":7.0,"Y":0.4,"Z":-6.9},{"t":10.25,"X":5.7,"Y":0.4,"Z":-7.2},{"t":10.35,"X":5.2,"Y":0.4,"Z":-7.4},{"t":10.45,"X":4.8,"Y":0.3,"Z":-7.5},{"t":10.55,"X":4.0,"Y":0.2,"Z":-7.5},{"t":10.65,"X":3.0,"Y":0.0,"Z":-7.7},{"t":10.75,"X":2.0,"Y":0.5,"Z":-8.4},{"t":10.85,"X":0.0,"Y":-0.5,"Z":-10.0},
{"t":11.05,"X":1.2,"Y":1.5,"Z":-7.5},{"t":11.15,"X":1.0,"Y":0.0,"Z":-8.8},{"t":11.25,"X":1.1,"Y":-0.3,"Z":-9.5},{"t":11.35,"X":0.9,"Y":0.0,"Z":-9.6},{"t":11.45,"X":0.8,"Y":0.1,"Z":-9.3},{"t":11.55,"X":0.9,"Y":-0.1,"Z":-9.4},{"t":11.65,"X":0.8,"Y":-0.2,"Z":-9.5},{"t":11.75,"X":0.7,"Y":-0.2,"Z":-9.3},{"t":11.85,"X":0.8,"Y":-0.2,"Z":-9.3},{"t":11.95,"X":0.6,"Y":-0.3,"Z":-9.5},
{"t":12.05,"X":0.8,"Y":-0.3,"Z":-9.4},{"t":12.15,"X":0.7,"Y":-0.3,"Z":-9.3},{"t":12.25,"X":0.8,"Y":-0.4,"Z":-9.5},{"t":12.35,"X":0.6,"Y":-0.4,"Z":-9.5},{"t":12.45,"X":0.8,"Y":-0.5,"Z":-9.6},{"t":12.55,"X":0.9,"Y":-0.6,"Z":-9.7},{"t":12.65,"X":1.3,"Y":-0.9,"Z":-9.9},{"t":12.75,"X":2.4,"Y":-0.9,"Z":-9.7},{"t":12.85,"X":3.4,"Y":-0.7,"Z":-9.3},{"t":12.95,"X":4.2,"Y":-0.3,"Z":-8.8},
{"t":13.05,"X":4.8,"Y":0.3,"Z":-8.2},{"t":13.15,"X":5.2,"Y":-0.2,"Z":-7.8},{"t":13.25,"X":5.8,"Y":-0.8,"Z":-7.2},{"t":13.35,"X":6.2,"Y":-0.5,"Z":-6.8},{"t":13.45,"X":6.6,"Y":-0.3,"Z":-6.2},{"t":13.55,"X":7.0,"Y":-0.3,"Z":-5.8},{"t":13.65,"X":7.4,"Y":-0.1,"Z":-5.4},{"t":13.75,"X":7.8,"Y":-0.1,"Z":-5.0},{"t":13.85,"X":8.1,"Y":0.0,"Z":-4.6},{"t":13.95,"X":8.4,"Y":0.0,"Z":-4.2},
{"t":14.05,"X":8.6,"Y":0.1,"Z":-3.8},{"t":14.15,"X":8.9,"Y":0.1,"Z":-3.4},{"t":14.25,"X":9.1,"Y":0.2,"Z":-2.9},{"t":14.35,"X":9.2,"Y":0.2,"Z":-2.8},{"t":14.45,"X":9.4,"Y":0.3,"Z":-3.1},{"t":14.55,"X":9.0,"Y":0.1,"Z":-2.5},{"t":14.65,"X":8.5,"Y":0.0,"Z":-1.8},{"t":14.75,"X":8.5,"Y":-0.2,"Z":-1.6},{"t":14.85,"X":9.4,"Y":-0.3,"Z":-1.7},{"t":14.95,"X":9.3,"Y":-0.5,"Z":-1.7},
{"t":15.05,"X":9.3,"Y":-0.5,"Z":-1.9},{"t":15.15,"X":9.3,"Y":-0.5,"Z":-1.8},{"t":15.25,"X":9.3,"Y":-0.6,"Z":-1.9},{"t":15.35,"X":9.2,"Y":-0.6,"Z":-2.2},{"t":15.45,"X":9.0,"Y":-0.5,"Z":-2.5},{"t":15.55,"X":9.1,"Y":-0.6,"Z":-2.9},{"t":15.65,"X":9.3,"Y":-0.7,"Z":-3.1},{"t":15.75,"X":8.7,"Y":-0.4,"Z":-3.4},{"t":15.85,"X":8.5,"Y":0.0,"Z":-3.8},{"t":15.95,"X":8.6,"Y":-0.2,"Z":-4.2},
{"t":16.05,"X":7.3,"Y":0.0,"Z":-4.8},{"t":16.15,"X":9.0,"Y":0.5,"Z":-5.4},{"t":16.35,"X":7.6,"Y":0.4,"Z":-5.7},{"t":16.45,"X":7.6,"Y":0.3,"Z":-5.7},{"t":16.55,"X":7.5,"Y":0.2,"Z":-5.6},{"t":16.65,"X":7.5,"Y":0.2,"Z":-5.7},{"t":16.75,"X":7.7,"Y":0.0,"Z":-5.8},{"t":16.85,"X":7.6,"Y":0.0,"Z":-5.6},{"t":16.95,"X":7.4,"Y":0.1,"Z":-5.8},
{"t":17.05,"X":7.6,"Y":0.1,"Z":-5.7},{"t":17.15,"X":7.5,"Y":0.2,"Z":-5.8},{"t":17.25,"X":7.6,"Y":0.2,"Z":-5.8},{"t":17.35,"X":7.6,"Y":0.4,"Z":-5.9},{"t":17.45,"X":6.8,"Y":0.8,"Z":-6.2},{"t":17.55,"X":8.0,"Y":1.1,"Z":-6.3},{"t":17.75,"X":5.5,"Y":1.6,"Z":-6.8},{"t":17.85,"X":6.0,"Y":1.1,"Z":-7.2},{"t":17.95,"X":4.2,"Y":0.0,"Z":-7.6},
{"t":18.05,"X":3.2,"Y":-0.2,"Z":-7.9},{"t":18.15,"X":2.4,"Y":0.5,"Z":-8.4},{"t":18.25,"X":1.8,"Y":1.0,"Z":-9.4},{"t":18.35,"X":1.2,"Y":1.4,"Z":-10.5},{"t":18.45,"X":1.1,"Y":1.3,"Z":-9.0},{"t":18.55,"X":0.9,"Y":1.1,"Z":-8.4},{"t":18.65,"X":0.8,"Y":0.9,"Z":-8.8},{"t":18.75,"X":0.8,"Y":0.8,"Z":-8.0},{"t":18.85,"X":0.9,"Y":0.8,"Z":-8.5},{"t":18.95,"X":0.8,"Y":0.8,"Z":-9.1},
{"t":19.05,"X":0.9,"Y":0.7,"Z":-9.2},{"t":19.15,"X":0.8,"Y":0.6,"Z":-9.3},{"t":19.25,"X":0.8,"Y":0.5,"Z":-9.3},{"t":19.35,"X":0.9,"Y":0.4,"Z":-9.4},{"t":19.45,"X":0.9,"Y":0.4,"Z":-9.5},{"t":19.55,"X":1.0,"Y":0.3,"Z":-9.4},{"t":19.65,"X":1.2,"Y":0.2,"Z":-9.5},{"t":19.75,"X":1.4,"Y":0.0,"Z":-9.4},{"t":19.85,"X":1.8,"Y":-0.3,"Z":-9.4},{"t":19.95,"X":2.9,"Y":0.0,"Z":-9.3}
],
"b_r": [
{"t":6,"k":"X","v":1.5},{"t":6.5,"k":"X","v":4.0},{"t":7,"k":"X","v":6.2},{"t":7.5,"k":"X","v":7.9},{"t":8,"k":"X","v":9.0},{"t":8.5,"k":"X","v":9.6},{"t":9,"k":"X","v":9.6},{"t":9.3,"k":"X","v":9.4},{"t":9.6,"k":"X","v":8.8},{"t":9.8,"k":"X","v":8.2},{"t":10,"k":"X","v":8.0},{"t":10.2,"k":"X","v":7.5},{"t":10.5,"k":"X","v":5.5},{"t":10.7,"k":"X","v":3.5},{"t":10.9,"k":"X","v":1.5},{"t":11.1,"k":"X","v":1.5},{"t":12.5,"k":"X","v":1.2},{"t":12.7,"k":"X","v":1.6},{"t":13,"k":"X","v":4.0},{"t":13.5,"k":"X","v":6.5},{"t":14,"k":"X","v":8.3},{"t":14.5,"k":"X","v":9.5},{"t":15,"k":"X","v":9.6},{"t":15.5,"k":"X","v":9.5},{"t":15.8,"k":"X","v":9.0},{"t":16,"k":"X","v":8.0},{"t":16.5,"k":"X","v":7.9},{"t":17.3,"k":"X","v":7.9},{"t":17.5,"k":"X","v":7.2},{"t":17.7,"k":"X","v":6.5},{"t":17.9,"k":"X","v":4.5},{"t":18.2,"k":"X","v":2.5},{"t":18.5,"k":"X","v":1.5},{"t":19,"k":"X","v":1.6},{"t":19.5,"k":"X","v":1.5},{"t":19.8,"k":"X","v":1.8},{"t":20,"k":"X","v":3.0},
{"t":6,"k":"Y","v":0.2},{"t":6.3,"k":"Y","v":-0.3},{"t":6.7,"k":"Y","v":-0.3},{"t":7,"k":"Y","v":0.3},{"t":7.5,"k":"Y","v":0.7},{"t":8,"k":"Y","v":0.8},{"t":8.5,"k":"Y","v":0.7},{"t":9,"k":"Y","v":0.7},{"t":9.3,"k":"Y","v":0.9},{"t":9.6,"k":"Y","v":1.2},{"t":10,"k":"Y","v":0.8},{"t":10.4,"k":"Y","v":1.0},{"t":10.7,"k":"Y","v":1.0},{"t":10.9,"k":"Y","v":-0.5},{"t":11,"k":"Y","v":0.0},{"t":11.3,"k":"Y","v":0.4},{"t":12,"k":"Y","v":0.2},{"t":12.5,"k":"Y","v":0.0},{"t":12.8,"k":"Y","v":-0.2},{"t":13,"k":"Y","v":0.2},{"t":13.4,"k":"Y","v":0.8},{"t":14,"k":"Y","v":1.0},{"t":14.5,"k":"Y","v":1.2},{"t":15,"k":"Y","v":1.0},{"t":15.5,"k":"Y","v":0.7},{"t":16,"k":"Y","v":0.7},{"t":16.2,"k":"Y","v":1.3},{"t":16.5,"k":"Y","v":0.8},{"t":17,"k":"Y","v":0.8},{"t":17.5,"k":"Y","v":1.0},{"t":17.8,"k":"Y","v":1.5},{"t":18,"k":"Y","v":1.0},{"t":18.5,"k":"Y","v":0.8},{"t":19,"k":"Y","v":0.6},{"t":19.5,"k":"Y","v":0.3},{"t":20,"k":"Y","v":0.3},
{"t":6,"k":"Z","v":-10.0},{"t":6.5,"k":"Z","v":-9.2},{"t":7,"k":"Z","v":-8.0},{"t":7.5,"k":"Z","v":-6.0},{"t":8,"k":"Z","v":-3.5},{"t":8.3,"k":"Z","v":-2.0},{"t":8.6,"k":"Z","v":-1.5},{"t":9,"k":"Z","v":-1.7},{"t":9.3,"k":"Z","v":-2.5},{"t":9.6,"k":"Z","v":-4.0},{"t":10,"k":"Z","v":-6.0},{"t":10.5,"k":"Z","v":-8.0},{"t":11,"k":"Z","v":-9.8},{"t":11.2,"k":"Z","v":-9.5},{"t":12.5,"k":"Z","v":-9.5},{"t":12.8,"k":"Z","v":-9.0},{"t":13.2,"k":"Z","v":-7.5},{"t":13.7,"k":"Z","v":-5.5},{"t":14.2,"k":"Z","v":-3.5},{"t":14.6,"k":"Z","v":-2.0},{"t":15,"k":"Z","v":-1.7},{"t":15.4,"k":"Z","v":-2.0},{"t":15.7,"k":"Z","v":-3.0},{"t":16,"k":"Z","v":-4.5},{"t":16.3,"k":"Z","v":-5.8},{"t":17.3,"k":"Z","v":-5.8},{"t":17.6,"k":"Z","v":-6.5},{"t":18,"k":"Z","v":-8.3},{"t":18.3,"k":"Z","v":-9.5},{"t":18.5,"k":"Z","v":-9.8},{"t":19,"k":"Z","v":-9.6},{"t":20,"k":"Z","v":-9.4}
],
"c_s": [
{"t":6.0,"X":-0.1,"Y":-0.1,"Z":0.1},{"t":6.1,"X":0.3,"Y":-0.3,"Z":0.15},{"t":6.2,"X":0.65,"Y":-0.7,"Z":0.2},{"t":6.3,"X":-0.4,"Y":-0.8,"Z":0.2},{"t":6.4,"X":-0.25,"Y":-0.7,"Z":0.15},{"t":6.5,"X":-0.2,"Y":-0.6,"Z":0.1},{"t":6.6,"X":-0.3,"Y":-0.55,"Z":0.05},{"t":6.7,"X":-0.15,"Y":-0.6,"Z":0.0},{"t":6.8,"X":-0.2,"Y":-0.55,"Z":-0.05},{"t":6.9,"X":-0.25,"Y":-0.5,"Z":0.0},
{"t":7.0,"X":-0.3,"Y":-0.55,"Z":0.0},{"t":7.1,"X":-0.2,"Y":-0.5,"Z":-0.05},{"t":7.2,"X":-0.3,"Y":-0.55,"Z":-0.05},{"t":7.3,"X":-0.2,"Y":-0.5,"Z":0.0},{"t":7.4,"X":-0.25,"Y":-0.45,"Z":-0.05},{"t":7.5,"X":-0.3,"Y":-0.4,"Z":-0.05},{"t":7.6,"X":-0.2,"Y":-0.4,"Z":-0.1},{"t":7.7,"X":-0.25,"Y":-0.7,"Z":-0.05},{"t":7.8,"X":-0.2,"Y":-0.3,"Z":0.0},{"t":7.9,"X":-0.1,"Y":-0.25,"Z":0.0},
{"t":8.0,"X":-0.1,"Y":-0.2,"Z":0.0},{"t":8.1,"X":0.05,"Y":-0.15,"Z":0.05},{"t":8.2,"X":0.1,"Y":-0.1,"Z":0.0},{"t":8.3,"X":-0.05,"Y":-0.1,"Z":0.05},{"t":8.4,"X":0.05,"Y":-0.05,"Z":0.05},{"t":8.5,"X":0.0,"Y":0.0,"Z":0.05},{"t":8.6,"X":-0.05,"Y":0.0,"Z":0.0},{"t":8.7,"X":-0.4,"Y":0.05,"Z":0.05},{"t":8.8,"X":-0.05,"Y":0.05,"Z":0.05},{"t":8.9,"X":0.0,"Y":0.05,"Z":0.05},
{"t":9.0,"X":0.0,"Y":0.1,"Z":0.05},{"t":9.1,"X":0.05,"Y":0.15,"Z":0.1},{"t":9.2,"X":0.1,"Y":0.4,"Z":0.1},{"t":9.3,"X":0.1,"Y":0.45,"Z":0.1},{"t":9.4,"X":0.15,"Y":0.5,"Z":0.15},{"t":9.5,"X":0.2,"Y":0.5,"Z":0.15},{"t":9.6,"X":0.25,"Y":0.6,"Z":0.1},{"t":9.7,"X":0.25,"Y":0.65,"Z":0.1},{"t":9.8,"X":0.3,"Y":0.55,"Z":0.05},{"t":9.9,"X":0.35,"Y":0.4,"Z":0.0},
{"t":10.0,"X":0.4,"Y":0.6,"Z":-0.05},{"t":10.1,"X":0.3,"Y":0.55,"Z":-0.05},{"t":10.2,"X":0.35,"Y":0.5,"Z":-0.1},{"t":10.3,"X":0.3,"Y":0.6,"Z":-0.1},{"t":10.4,"X":0.4,"Y":0.8,"Z":-0.05},{"t":10.5,"X":0.4,"Y":1.0,"Z":0.0},{"t":10.6,"X":0.35,"Y":0.7,"Z":-0.05},{"t":10.7,"X":0.4,"Y":0.9,"Z":-0.15},{"t":10.8,"X":0.3,"Y":1.4,"Z":-0.3},{"t":10.9,"X":-0.5,"Y":1.7,"Z":-0.3},
{"t":11.0,"X":1.0,"Y":0.6,"Z":0.2},{"t":11.1,"X":-0.5,"Y":-1.6,"Z":0.0},{"t":11.2,"X":0.2,"Y":0.3,"Z":0.0},{"t":11.3,"X":0.5,"Y":0.2,"Z":0.0},{"t":11.4,"X":0.1,"Y":0.1,"Z":0.0},{"t":11.5,"X":0.0,"Y":0.0,"Z":0.0},{"t":11.6,"X":0.02,"Y":0.0,"Z":0.0},{"t":11.7,"X":-0.02,"Y":0.0,"Z":0.0},{"t":11.8,"X":0.03,"Y":0.0,"Z":0.0},{"t":11.9,"X":0.0,"Y":0.0,"Z":0.0},
{"t":12.0,"X":-0.03,"Y":0.0,"Z":0.0},{"t":12.1,"X":0.02,"Y":0.0,"Z":0.0},{"t":12.2,"X":0.0,"Y":0.0,"Z":0.0},{"t":12.3,"X":-0.02,"Y":0.0,"Z":0.05},{"t":12.4,"X":0.02,"Y":0.0,"Z":0.05},{"t":12.5,"X":0.0,"Y":0.0,"Z":0.1},{"t":12.6,"X":-0.1,"Y":-0.2,"Z":0.25},{"t":12.7,"X":-0.2,"Y":-0.5,"Z":0.2},{"t":12.8,"X":-0.3,"Y":-0.8,"Z":0.15},{"t":12.9,"X":-0.4,"Y":-1.0,"Z":0.1},
{"t":13.0,"X":-0.5,"Y":-0.8,"Z":0.05},{"t":13.1,"X":-0.45,"Y":-0.7,"Z":0.05},{"t":13.2,"X":-0.3,"Y":-0.55,"Z":0.1},{"t":13.3,"X":-0.35,"Y":-0.55,"Z":0.1},{"t":13.4,"X":-0.3,"Y":-0.5,"Z":0.15},{"t":13.5,"X":-0.3,"Y":-0.5,"Z":0.1},{"t":13.6,"X":-0.35,"Y":-0.5,"Z":0.05},{"t":13.7,"X":-0.25,"Y":-0.45,"Z":0.0},{"t":13.8,"X":-0.3,"Y":-0.45,"Z":-0.05},{"t":13.9,"X":-0.2,"Y":-0.5,"Z":-0.1},
{"t":14.0,"X":-0.1,"Y":-0.45,"Z":-0.05},{"t":14.1,"X":-0.15,"Y":-0.45,"Z":-0.05},{"t":14.2,"X":-0.1,"Y":-0.5,"Z":0.0},{"t":14.3,"X":-0.1,"Y":-0.5,"Z":0.05},{"t":14.4,"X":-0.05,"Y":-0.3,"Z":0.0},{"t":14.5,"X":0.0,"Y":0.2,"Z":-0.05},{"t":14.6,"X":0.0,"Y":-0.1,"Z":-0.05},{"t":14.7,"X":0.05,"Y":-0.05,"Z":-0.05},{"t":14.8,"X":-0.05,"Y":0.0,"Z":0.0},{"t":14.9,"X":0.0,"Y":0.0,"Z":0.0},
{"t":15.0,"X":0.0,"Y":0.0,"Z":0.0},{"t":15.1,"X":0.05,"Y":0.05,"Z":0.05},{"t":15.2,"X":0.1,"Y":0.1,"Z":0.05},{"t":15.3,"X":0.1,"Y":0.2,"Z":0.1},{"t":15.4,"X":0.2,"Y":0.3,"Z":0.1},{"t":15.5,"X":0.25,"Y":0.35,"Z":0.1},{"t":15.6,"X":0.3,"Y":0.4,"Z":0.1},{"t":15.7,"X":0.25,"Y":0.3,"Z":0.05},{"t":15.8,"X":0.2,"Y":0.1,"Z":0.05},{"t":15.9,"X":0.2,"Y":0.2,"Z":0.0},
{"t":16.0,"X":0.15,"Y":0.5,"Z":0.0},{"t":16.1,"X":0.1,"Y":0.85,"Z":-0.05},{"t":16.2,"X":0.1,"Y":0.3,"Z":-0.1},{"t":16.3,"X":0.05,"Y":0.2,"Z":-0.1},{"t":16.4,"X":0.0,"Y":0.1,"Z":-0.05},{"t":16.5,"X":0.0,"Y":0.0,"Z":-0.05},{"t":16.6,"X":-0.05,"Y":0.0,"Z":0.0},{"t":16.7,"X":-0.1,"Y":0.0,"Z":0.0},{"t":16.8,"X":-0.1,"Y":-0.05,"Z":0.0},{"t":16.9,"X":-0.05,"Y":0.0,"Z":0.05},
{"t":17.0,"X":0.0,"Y":0.0,"Z":0.0},{"t":17.1,"X":0.05,"Y":0.0,"Z":0.05},{"t":17.2,"X":0.0,"Y":0.0,"Z":0.05},{"t":17.3,"X":0.0,"Y":0.1,"Z":0.1},{"t":17.4,"X":0.1,"Y":0.7,"Z":0.15},{"t":17.5,"X":0.2,"Y":0.1,"Z":0.2},{"t":17.6,"X":-0.3,"Y":0.3,"Z":0.05},{"t":17.7,"X":0.3,"Y":0.5,"Z":0.0},{"t":17.8,"X":0.5,"Y":1.5,"Z":0.1},{"t":17.9,"X":0.6,"Y":0.5,"Z":-0.2},
{"t":18.0,"X":0.7,"Y":0.7,"Z":-0.15},{"t":18.1,"X":0.55,"Y":0.8,"Z":-0.15},{"t":18.2,"X":0.4,"Y":0.8,"Z":-0.1},{"t":18.3,"X":0.3,"Y":0.6,"Z":-0.1},{"t":18.4,"X":0.3,"Y":0.4,"Z":-0.05},{"t":18.5,"X":0.2,"Y":0.3,"Z":-0.05},{"t":18.6,"X":0.1,"Y":0.2,"Z":0.0},{"t":18.7,"X":0.05,"Y":0.1,"Z":0.0},{"t":18.8,"X":0.0,"Y":0.05,"Z":0.0},{"t":18.9,"X":0.0,"Y":0.0,"Z":0.0},
{"t":19.0,"X":0.0,"Y":0.0,"Z":0.0},{"t":19.1,"X":0.05,"Y":0.0,"Z":0.0},{"t":19.2,"X":0.0,"Y":0.0,"Z":0.0},{"t":19.3,"X":0.0,"Y":0.0,"Z":0.05},{"t":19.4,"X":0.0,"Y":0.0,"Z":0.05},{"t":19.5,"X":0.0,"Y":0.0,"Z":0.05},{"t":19.6,"X":-0.05,"Y":-0.05,"Z":0.1},{"t":19.7,"X":-0.1,"Y":-0.1,"Z":0.15},{"t":19.8,"X":-0.2,"Y":-0.2,"Z":0.2},{"t":19.9,"X":-0.35,"Y":-0.5,"Z":0.25},
{"t":20.0,"X":-0.5,"Y":-0.85,"Z":0.25}
],
"c_r": [
{"t":6,"k":"X","v":-0.1},{"t":6.5,"k":"X","v":-0.2},{"t":7,"k":"X","v":-0.25},{"t":7.5,"k":"X","v":-0.25},{"t":8,"k":"X","v":-0.1},{"t":8.5,"k":"X","v":0.0},{"t":9,"k":"X","v":0.05},{"t":9.5,"k":"X","v":0.15},{"t":10,"k":"X","v":0.3},{"t":10.5,"k":"X","v":0.35},{"t":10.8,"k":"X","v":0.35},{"t":11,"k":"X","v":0.0},{"t":11.3,"k":"X","v":0.0},{"t":12.5,"k":"X","v":0.0},{"t":12.9,"k":"X","v":-0.3},{"t":13.1,"k":"X","v":-0.4},{"t":13.5,"k":"X","v":-0.3},{"t":14,"k":"X","v":-0.15},{"t":14.5,"k":"X","v":-0.05},{"t":15,"k":"X","v":0.05},{"t":15.5,"k":"X","v":0.2},{"t":16,"k":"X","v":0.15},{"t":16.5,"k":"X","v":0.0},{"t":17,"k":"X","v":0.0},{"t":17.5,"k":"X","v":0.05},{"t":18,"k":"X","v":0.5},{"t":18.3,"k":"X","v":0.4},{"t":18.7,"k":"X","v":0.1},{"t":19,"k":"X","v":0.0},{"t":19.6,"k":"X","v":0.0},{"t":20,"k":"X","v":-0.4},
{"t":6,"k":"Y","v":-0.3},{"t":6.3,"k":"Y","v":-0.5},{"t":6.6,"k":"Y","v":-0.6},{"t":7,"k":"Y","v":-0.6},{"t":7.5,"k":"Y","v":-0.55},{"t":8,"k":"Y","v":-0.3},{"t":8.5,"k":"Y","v":-0.1},{"t":9,"k":"Y","v":0.05},{"t":9.5,"k":"Y","v":0.2},{"t":10,"k":"Y","v":0.4},{"t":10.5,"k":"Y","v":0.6},{"t":10.8,"k":"Y","v":1.0},{"t":10.95,"k":"Y","v":1.2},{"t":11.2,"k":"Y","v":0.5},{"t":11.5,"k":"Y","v":0.1},{"t":12,"k":"Y","v":0.0},{"t":12.6,"k":"Y","v":-0.1},{"t":12.9,"k":"Y","v":-0.5},{"t":13.15,"k":"Y","v":-0.9},{"t":13.5,"k":"Y","v":-0.8},{"t":14,"k":"Y","v":-0.55},{"t":14.5,"k":"Y","v":-0.25},{"t":15,"k":"Y","v":0.0},{"t":15.5,"k":"Y","v":0.2},{"t":16,"k":"Y","v":0.3},{"t":16.2,"k":"Y","v":0.5},{"t":16.5,"k":"Y","v":0.1},{"t":17,"k":"Y","v":0.0},{"t":17.5,"k":"Y","v":0.1},{"t":17.8,"k":"Y","v":0.5},{"t":18.3,"k":"Y","v":0.95},{"t":18.6,"k":"Y","v":0.6},{"t":18.9,"k":"Y","v":0.2},{"t":19.2,"k":"Y","v":0.05},{"t":19.6,"k":"Y","v":0.0},{"t":20,"k":"Y","v":-0.6},
{"t":6,"k":"Z","v":0.05},{"t":6.5,"k":"Z","v":0.1},{"t":7,"k":"Z","v":0.0},{"t":8,"k":"Z","v":0.0},{"t":9,"k":"Z","v":0.05},{"t":9.5,"k":"Z","v":0.1},{"t":10,"k":"Z","v":0.0},{"t":10.5,"k":"Z","v":-0.05},{"t":10.9,"k":"Z","v":-0.1},{"t":11.2,"k":"Z","v":0.0},{"t":12.5,"k":"Z","v":0.05},{"t":12.8,"k":"Z","v":0.1},{"t":13.5,"k":"Z","v":0.05},{"t":14,"k":"Z","v":0.0},{"t":15,"k":"Z","v":0.0},{"t":16,"k":"Z","v":0.05},{"t":17,"k":"Z","v":0.0},{"t":17.8,"k":"Z","v":0.1},{"t":18,"k":"Z","v":0.0},{"t":19,"k":"Z","v":0.0},{"t":19.6,"k":"Z","v":0.0},{"t":20,"k":"Z","v":0.1}
],
"d_s": [
{"t":6.0,"X":0.0,"Y":0.0,"Z":0.0},{"t":6.1,"X":0.3,"Y":0.3,"Z":-0.05},{"t":6.2,"X":0.75,"Y":0.6,"Z":-0.05},{"t":6.3,"X":0.1,"Y":0.7,"Z":-0.05},{"t":6.4,"X":0.0,"Y":0.7,"Z":-0.1},{"t":6.5,"X":-0.1,"Y":0.65,"Z":-0.1},{"t":6.6,"X":-0.05,"Y":0.65,"Z":-0.1},{"t":6.7,"X":-0.1,"Y":0.6,"Z":-0.05},{"t":6.8,"X":-0.05,"Y":0.55,"Z":-0.1},{"t":6.9,"X":0.0,"Y":0.5,"Z":-0.05},
{"t":7.0,"X":0.0,"Y":0.45,"Z":-0.05},{"t":7.1,"X":0.05,"Y":0.5,"Z":0.0},{"t":7.2,"X":-0.05,"Y":0.55,"Z":-0.05},{"t":7.3,"X":-0.05,"Y":0.6,"Z":0.0},{"t":7.4,"X":0.0,"Y":0.6,"Z":0.0},{"t":7.5,"X":0.05,"Y":0.6,"Z":0.0},{"t":7.6,"X":0.05,"Y":0.6,"Z":-0.05},{"t":7.7,"X":0.1,"Y":0.55,"Z":0.0},{"t":7.8,"X":0.05,"Y":0.5,"Z":-0.05},{"t":7.9,"X":0.1,"Y":0.45,"Z":-0.1},
{"t":8.0,"X":-0.5,"Y":0.6,"Z":-0.1},{"t":8.1,"X":0.05,"Y":0.6,"Z":-0.05},{"t":8.2,"X":0.1,"Y":0.55,"Z":0.0},{"t":8.3,"X":0.15,"Y":0.3,"Z":0.05},{"t":8.4,"X":0.1,"Y":0.1,"Z":0.05},{"t":8.5,"X":0.15,"Y":0.0,"Z":0.05},{"t":8.6,"X":0.1,"Y":-0.05,"Z":0.05},{"t":8.7,"X":0.1,"Y":0.0,"Z":0.05},{"t":8.8,"X":0.1,"Y":-0.05,"Z":0.05},{"t":8.9,"X":0.05,"Y":0.0,"Z":0.05},
{"t":9.0,"X":0.0,"Y":-0.05,"Z":0.05},{"t":9.1,"X":-0.05,"Y":-0.2,"Z":0.0},{"t":9.2,"X":-0.1,"Y":-0.5,"Z":-0.05},{"t":9.3,"X":-0.15,"Y":-0.7,"Z":-0.05},{"t":9.4,"X":-0.2,"Y":-0.6,"Z":0.0},{"t":9.5,"X":-0.2,"Y":-0.5,"Z":-0.05},{"t":9.6,"X":-0.25,"Y":-0.7,"Z":0.0},{"t":9.7,"X":-0.3,"Y":-0.9,"Z":0.05},{"t":9.8,"X":-0.2,"Y":-0.8,"Z":0.05},{"t":9.9,"X":-0.1,"Y":-0.6,"Z":0.05},
{"t":10.0,"X":-0.3,"Y":-0.8,"Z":0.1},{"t":10.1,"X":-0.25,"Y":-0.95,"Z":0.1},{"t":10.2,"X":-0.2,"Y":-0.7,"Z":0.15},{"t":10.3,"X":0.0,"Y":-0.75,"Z":0.15},{"t":10.4,"X":0.2,"Y":-0.8,"Z":0.15},{"t":10.5,"X":0.25,"Y":-0.75,"Z":0.15},{"t":10.6,"X":0.3,"Y":-0.7,"Z":0.15},{"t":10.7,"X":0.5,"Y":-0.65,"Z":0.2},{"t":10.8,"X":0.4,"Y":-1.1,"Z":0.2},{"t":10.9,"X":-0.6,"Y":-1.4,"Z":0.2},
{"t":11.0,"X":-2.0,"Y":-1.45,"Z":0.1},{"t":11.1,"X":0.6,"Y":0.5,"Z":0.0},{"t":11.2,"X":-0.3,"Y":0.1,"Z":0.0},{"t":11.3,"X":0.5,"Y":0.0,"Z":0.0},{"t":11.4,"X":-0.2,"Y":0.0,"Z":0.0},{"t":11.5,"X":0.0,"Y":0.0,"Z":0.0},{"t":11.6,"X":0.05,"Y":0.0,"Z":0.0},{"t":11.7,"X":0.0,"Y":0.0,"Z":0.0},{"t":11.8,"X":0.05,"Y":0.0,"Z":0.0},{"t":11.9,"X":0.0,"Y":0.0,"Z":0.0},
{"t":12.0,"X":0.05,"Y":0.0,"Z":0.0},{"t":12.1,"X":0.0,"Y":0.0,"Z":0.0},{"t":12.2,"X":0.05,"Y":0.0,"Z":0.0},{"t":12.3,"X":0.0,"Y":0.0,"Z":0.0},{"t":12.4,"X":0.05,"Y":0.0,"Z":0.0},{"t":12.5,"X":0.05,"Y":0.0,"Z":0.0},{"t":12.6,"X":0.0,"Y":0.4,"Z":-0.05},{"t":12.7,"X":-0.2,"Y":0.7,"Z":-0.05},{"t":12.8,"X":0.0,"Y":0.9,"Z":-0.05},{"t":12.9,"X":0.1,"Y":1.05,"Z":-0.05},
{"t":13.0,"X":0.2,"Y":0.95,"Z":-0.05},{"t":13.1,"X":0.4,"Y":0.8,"Z":-0.1},{"t":13.2,"X":0.3,"Y":0.7,"Z":-0.15},{"t":13.3,"X":0.2,"Y":0.6,"Z":-0.2},{"t":13.4,"X":0.15,"Y":0.55,"Z":-0.2},{"t":13.5,"X":0.1,"Y":0.55,"Z":-0.2},{"t":13.6,"X":0.05,"Y":0.6,"Z":-0.15},{"t":13.7,"X":0.0,"Y":0.6,"Z":-0.1},{"t":13.8,"X":0.0,"Y":0.6,"Z":-0.1},{"t":13.9,"X":-0.05,"Y":0.6,"Z":-0.1},
{"t":14.0,"X":-0.1,"Y":0.6,"Z":-0.1},{"t":14.1,"X":-0.1,"Y":0.65,"Z":-0.05},{"t":14.2,"X":-0.15,"Y":0.7,"Z":-0.05},{"t":14.3,"X":-0.2,"Y":0.7,"Z":0.0},{"t":14.4,"X":0.0,"Y":0.5,"Z":0.0},{"t":14.5,"X":0.2,"Y":0.2,"Z":-0.05},{"t":14.6,"X":0.1,"Y":0.0,"Z":0.0},{"t":14.7,"X":0.05,"Y":0.0,"Z":0.05},{"t":14.8,"X":0.05,"Y":-0.05,"Z":0.1},{"t":14.9,"X":0.0,"Y":0.0,"Z":0.1},
{"t":15.0,"X":0.0,"Y":0.0,"Z":0.1},{"t":15.1,"X":0.0,"Y":-0.05,"Z":0.1},{"t":15.2,"X":-0.05,"Y":-0.1,"Z":0.05},{"t":15.3,"X":-0.05,"Y":-0.2,"Z":0.05},{"t":15.4,"X":-0.05,"Y":-0.3,"Z":0.05},{"t":15.5,"X":-0.1,"Y":-0.35,"Z":0.1},{"t":15.6,"X":-0.1,"Y":-0.3,"Z":0.1},{"t":15.7,"X":-0.05,"Y":-0.45,"Z":0.0},{"t":15.8,"X":0.3,"Y":-0.6,"Z":-0.1},{"t":15.9,"X":0.1,"Y":-0.4,"Z":-0.15},
{"t":16.0,"X":-0.2,"Y":-1.15,"Z":0.05},{"t":16.1,"X":0.0,"Y":-0.6,"Z":0.2},{"t":16.2,"X":0.2,"Y":-0.2,"Z":0.15},{"t":16.3,"X":0.15,"Y":-0.1,"Z":0.1},{"t":16.4,"X":0.1,"Y":0.0,"Z":0.05},{"t":16.5,"X":0.1,"Y":0.0,"Z":0.05},{"t":16.6,"X":0.05,"Y":0.0,"Z":0.05},{"t":16.7,"X":0.0,"Y":0.0,"Z":0.05},{"t":16.8,"X":0.0,"Y":0.0,"Z":0.05},{"t":16.9,"X":-0.05,"Y":0.0,"Z":0.05},
{"t":17.0,"X":-0.05,"Y":0.0,"Z":0.05},{"t":17.1,"X":0.0,"Y":-0.05,"Z":0.0},{"t":17.2,"X":0.0,"Y":-0.1,"Z":0.0},{"t":17.3,"X":0.05,"Y":-0.3,"Z":0.0},{"t":17.4,"X":0.1,"Y":-0.8,"Z":-0.2},{"t":17.5,"X":0.1,"Y":-0.2,"Z":-0.3},{"t":17.6,"X":0.1,"Y":-0.4,"Z":0.0},{"t":17.7,"X":0.1,"Y":-0.8,"Z":0.1},{"t":17.8,"X":0.5,"Y":-1.65,"Z":0.05},{"t":17.9,"X":0.4,"Y":-1.0,"Z":0.05},
{"t":18.0,"X":0.55,"Y":-0.8,"Z":0.05},{"t":18.1,"X":0.1,"Y":-0.75,"Z":-0.05},{"t":18.2,"X":-0.1,"Y":-0.75,"Z":-0.1},{"t":18.3,"X":0.1,"Y":-0.7,"Z":-0.1},{"t":18.4,"X":0.3,"Y":-0.7,"Z":-0.05},{"t":18.5,"X":0.2,"Y":-0.55,"Z":0.0},{"t":18.6,"X":0.1,"Y":-0.4,"Z":0.05},{"t":18.7,"X":0.0,"Y":-0.25,"Z":0.05},{"t":18.8,"X":0.05,"Y":-0.1,"Z":0.0},{"t":18.9,"X":0.1,"Y":-0.05,"Z":0.0},
{"t":19.0,"X":0.1,"Y":0.0,"Z":0.0},{"t":19.1,"X":0.05,"Y":0.0,"Z":0.0},{"t":19.2,"X":0.1,"Y":0.0,"Z":0.0},{"t":19.3,"X":0.05,"Y":0.05,"Z":0.0},{"t":19.4,"X":0.1,"Y":0.05,"Z":0.0},{"t":19.5,"X":0.05,"Y":0.1,"Z":0.0},{"t":19.6,"X":0.1,"Y":0.15,"Z":0.0},{"t":19.7,"X":0.15,"Y":0.25,"Z":-0.05},{"t":19.8,"X":0.2,"Y":0.35,"Z":-0.05},{"t":19.9,"X":-0.4,"Y":0.5,"Z":-0.1},
{"t":20.0,"X":0.1,"Y":0.9,"Z":-0.1}
],
"d_r": [
{"t":6,"k":"X","v":0.0},{"t":8,"k":"X","v":0.0},{"t":8.5,"k":"X","v":0.1},{"t":9,"k":"X","v":0.0},{"t":9.5,"k":"X","v":-0.15},{"t":10,"k":"X","v":-0.2},{"t":10.5,"k":"X","v":0.1},{"t":10.8,"k":"X","v":0.2},{"t":11,"k":"X","v":-0.4},{"t":11.2,"k":"X","v":-0.1},{"t":11.5,"k":"X","v":0.0},{"t":12.8,"k":"X","v":0.0},{"t":13.2,"k":"X","v":0.2},{"t":13.6,"k":"X","v":0.05},{"t":14,"k":"X","v":0.0},{"t":14.5,"k":"X","v":0.1},{"t":15,"k":"X","v":0.0},{"t":16,"k":"X","v":0.05},{"t":17,"k":"X","v":0.0},{"t":17.8,"k":"X","v":0.2},{"t":18.2,"k":"X","v":0.1},{"t":19,"k":"X","v":0.05},{"t":20,"k":"X","v":0.05},
{"t":6,"k":"Y","v":0.0},{"t":6.2,"k":"Y","v":0.3},{"t":6.5,"k":"Y","v":0.6},{"t":7,"k":"Y","v":0.65},{"t":7.5,"k":"Y","v":0.7},{"t":8,"k":"Y","v":0.55},{"t":8.3,"k":"Y","v":0.4},{"t":8.6,"k":"Y","v":0.0},{"t":9,"k":"Y","v":-0.05},{"t":9.3,"k":"Y","v":-0.3},{"t":9.7,"k":"Y","v":-0.5},{"t":10.1,"k":"Y","v":-0.6},{"t":10.5,"k":"Y","v":-0.5},{"t":10.9,"k":"Y","v":-0.7},{"t":11.1,"k":"Y","v":0.0},{"t":12.5,"k":"Y","v":0.0},{"t":12.8,"k":"Y","v":0.8},{"t":13,"k":"Y","v":1.0},{"t":13.4,"k":"Y","v":0.85},{"t":14,"k":"Y","v":0.7},{"t":14.4,"k":"Y","v":0.6},{"t":14.7,"k":"Y","v":0.0},{"t":15.5,"k":"Y","v":-0.1},{"t":16.1,"k":"Y","v":-0.5},{"t":16.5,"k":"Y","v":-0.2},{"t":17,"k":"Y","v":0.0},{"t":17.5,"k":"Y","v":-0.2},{"t":18,"k":"Y","v":-0.6},{"t":18.5,"k":"Y","v":-0.5},{"t":19,"k":"Y","v":-0.05},{"t":19.5,"k":"Y","v":0.1},{"t":20,"k":"Y","v":0.6},
{"t":6,"k":"Z","v":0.0},{"t":6.5,"k":"Z","v":-0.1},{"t":7,"k":"Z","v":-0.1},{"t":7.5,"k":"Z","v":-0.05},{"t":8,"k":"Z","v":-0.05},{"t":8.5,"k":"Z","v":0.0},{"t":9,"k":"Z","v":0.05},{"t":10,"k":"Z","v":0.1},{"t":10.5,"k":"Z","v":0.15},{"t":11,"k":"Z","v":0.0},{"t":12.8,"k":"Z","v":0.0},{"t":13.3,"k":"Z","v":-0.25},{"t":13.7,"k":"Z","v":-0.2},{"t":14.2,"k":"Z","v":-0.05},{"t":14.8,"k":"Z","v":0.1},{"t":15.3,"k":"Z","v":0.05},{"t":15.8,"k":"Z","v":-0.05},{"t":16.2,"k":"Z","v":0.1},{"t":17,"k":"Z","v":0.05},{"t":17.6,"k":"Z","v":0.0},{"t":18,"k":"Z","v":-0.2},{"t":18.5,"k":"Z","v":0.0},{"t":19,"k":"Z","v":0.05},{"t":20,"k":"Z","v":0.0}
],
"e_r": [
{"t":6,"k":"X","v":1.38},{"t":6.13,"k":"X","v":1.43},{"t":6.3,"k":"X","v":1.55},{"t":6.5,"k":"X","v":1.69},{"t":6.8,"k":"X","v":1.85},{"t":7,"k":"X","v":1.97},{"t":7.3,"k":"X","v":2.12},{"t":7.5,"k":"X","v":2.22},{"t":7.8,"k":"X","v":2.38},{"t":8,"k":"X","v":2.45},{"t":8.3,"k":"X","v":2.52},{"t":8.7,"k":"X","v":2.52},{"t":9,"k":"X","v":2.55},{"t":9.2,"k":"X","v":2.55},{"t":9.5,"k":"X","v":2.45},{"t":9.8,"k":"X","v":2.3},{"t":10,"k":"X","v":2.22},{"t":10.2,"k":"X","v":2.1},{"t":10.4,"k":"X","v":2.0},{"t":10.6,"k":"X","v":1.85},{"t":10.8,"k":"X","v":1.65},{"t":10.9,"k":"X","v":1.55},{"t":11,"k":"X","v":1.42},{"t":11.1,"k":"X","v":1.5},{"t":11.2,"k":"X","v":1.45},{"t":11.3,"k":"X","v":1.47},{"t":11.5,"k":"X","v":1.45},{"t":12,"k":"X","v":1.44},{"t":12.5,"k":"X","v":1.43},{"t":12.7,"k":"X","v":1.48},{"t":12.9,"k":"X","v":1.57},{"t":13.1,"k":"X","v":1.8},{"t":13.35,"k":"X","v":2.04},{"t":13.6,"k":"X","v":2.15},{"t":13.9,"k":"X","v":2.27},{"t":14.2,"k":"X","v":2.4},{"t":14.5,"k":"X","v":2.52},{"t":14.8,"k":"X","v":2.53},{"t":15.2,"k":"X","v":2.55},{"t":15.5,"k":"X","v":2.5},{"t":15.8,"k":"X","v":2.42},{"t":16,"k":"X","v":2.3},{"t":16.2,"k":"X","v":2.24},{"t":16.6,"k":"X","v":2.22},{"t":17,"k":"X","v":2.22},{"t":17.3,"k":"X","v":2.25},{"t":17.5,"k":"X","v":2.16},{"t":17.8,"k":"X","v":1.94},{"t":18,"k":"X","v":1.78},{"t":18.2,"k":"X","v":1.61},{"t":18.4,"k":"X","v":1.5},{"t":18.6,"k":"X","v":1.47},{"t":19,"k":"X","v":1.45},{"t":19.3,"k":"X","v":1.43},{"t":19.6,"k":"X","v":1.42},{"t":19.8,"k":"X","v":1.5},{"t":20,"k":"X","v":1.61},
{"t":6,"k":"Y","v":0.16},{"t":6.26,"k":"Y","v":0.18},{"t":6.4,"k":"Y","v":0.14},{"t":7.03,"k":"Y","v":0.13},{"t":7.8,"k":"Y","v":0.07},{"t":8.3,"k":"Y","v":0.06},{"t":8.83,"k":"Y","v":0.04},{"t":9.6,"k":"Y","v":0.08},{"t":10.11,"k":"Y","v":0.15},{"t":10.5,"k":"Y","v":0.18},{"t":10.76,"k":"Y","v":0.21},{"t":10.95,"k":"Y","v":0.13},{"t":11.14,"k":"Y","v":0.18},{"t":12.43,"k":"Y","v":0.18},{"t":12.68,"k":"Y","v":0.15},{"t":13.07,"k":"Y","v":0.04},{"t":13.45,"k":"Y","v":0.01},{"t":14.1,"k":"Y","v":-0.11},{"t":14.48,"k":"Y","v":-0.14},{"t":15.25,"k":"Y","v":-0.14},{"t":15.51,"k":"Y","v":-0.09},{"t":16.03,"k":"Y","v":-0.06},{"t":16.41,"k":"Y","v":0.0},{"t":17.44,"k":"Y","v":0.01},{"t":17.83,"k":"Y","v":0.05},{"t":18.08,"k":"Y","v":0.15},{"t":18.6,"k":"Y","v":0.17},{"t":18.72,"k":"Y","v":0.2},{"t":19.62,"k":"Y","v":0.19},{"t":20,"k":"Y","v":0.08},
{"t":6,"k":"Z","v":-0.27},{"t":6.3,"k":"Z","v":-0.26},{"t":6.5,"k":"Z","v":-0.28},{"t":6.9,"k":"Z","v":-0.28},{"t":7.29,"k":"Z","v":-0.22},{"t":7.93,"k":"Z","v":-0.11},{"t":9.08,"k":"Z","v":-0.08},{"t":9.6,"k":"Z","v":-0.13},{"t":10.24,"k":"Z","v":-0.15},{"t":10.6,"k":"Z","v":-0.18},{"t":10.88,"k":"Z","v":-0.24},{"t":11.01,"k":"Z","v":-0.09},{"t":11.1,"k":"Z","v":-0.06},{"t":11.21,"k":"Z","v":-0.01},{"t":11.4,"k":"Z","v":-0.04},{"t":12.81,"k":"Z","v":-0.02},{"t":13.07,"k":"Z","v":-0.04},{"t":13.45,"k":"Z","v":0.01},{"t":14,"k":"Z","v":0.0},{"t":14.48,"k":"Z","v":-0.01},{"t":15,"k":"Z","v":0.03},{"t":16.03,"k":"Z","v":0.01},{"t":17.31,"k":"Z","v":0.03},{"t":17.95,"k":"Z","v":0.04},{"t":18.34,"k":"Z","v":-0.03},{"t":18.66,"k":"Z","v":0.0},{"t":18.98,"k":"Z","v":-0.03},{"t":19.88,"k":"Z","v":0.01},{"t":20,"k":"Z","v":0.0}
],
"f_r": [
{"t":6,"k":"X","v":0.01},{"t":6.15,"k":"X","v":-0.02},{"t":6.35,"k":"X","v":-0.27},{"t":6.54,"k":"X","v":-0.55},{"t":6.86,"k":"X","v":-0.86},{"t":7.12,"k":"X","v":-1.14},{"t":7.5,"k":"X","v":-1.56},{"t":7.88,"k":"X","v":-2.0},{"t":8.14,"k":"X","v":-2.26},{"t":8.27,"k":"X","v":-2.35},{"t":9.04,"k":"X","v":-2.37},{"t":9.17,"k":"X","v":-2.31},{"t":9.42,"k":"X","v":-2.07},{"t":9.68,"k":"X","v":-1.77},{"t":9.94,"k":"X","v":-1.53},{"t":10.13,"k":"X","v":-1.28},{"t":10.32,"k":"X","v":-1.04},{"t":10.58,"k":"X","v":-0.69},{"t":10.71,"k":"X","v":-0.44},{"t":10.83,"k":"X","v":-0.16},{"t":10.96,"k":"X","v":-0.04},{"t":11.06,"k":"X","v":-0.13},{"t":11.22,"k":"X","v":-0.04},{"t":11.47,"k":"X","v":-0.02},{"t":11.99,"k":"X","v":-0.01},{"t":12.5,"k":"X","v":0.01},{"t":12.69,"k":"X","v":-0.06},{"t":12.88,"k":"X","v":-0.34},{"t":13.14,"k":"X","v":-0.83},{"t":13.27,"k":"X","v":-1.11},{"t":13.53,"k":"X","v":-1.39},{"t":13.91,"k":"X","v":-1.8},{"t":14.17,"k":"X","v":-2.12},{"t":14.36,"k":"X","v":-2.31},{"t":14.55,"k":"X","v":-2.33},{"t":15.0,"k":"X","v":-2.35},{"t":15.19,"k":"X","v":-2.3},{"t":15.45,"k":"X","v":-2.16},{"t":15.71,"k":"X","v":-2.02},{"t":15.9,"k":"X","v":-1.95},{"t":16.03,"k":"X","v":-1.66},{"t":16.15,"k":"X","v":-1.62},{"t":16.47,"k":"X","v":-1.59},{"t":16.99,"k":"X","v":-1.6},{"t":17.24,"k":"X","v":-1.63},{"t":17.44,"k":"X","v":-1.42},{"t":17.56,"k":"X","v":-1.41},{"t":17.69,"k":"X","v":-0.97},{"t":17.88,"k":"X","v":-0.76},{"t":18.08,"k":"X","v":-0.41},{"t":18.27,"k":"X","v":-0.16},{"t":18.46,"k":"X","v":-0.06},{"t":18.91,"k":"X","v":-0.03},{"t":19.42,"k":"X","v":-0.01},{"t":19.62,"k":"X","v":-0.04},{"t":19.81,"k":"X","v":-0.16},{"t":20,"k":"X","v":-0.37},
{"t":6,"k":"Y","v":-0.23},{"t":6.22,"k":"Y","v":-0.09},{"t":6.47,"k":"Y","v":-0.01},{"t":6.86,"k":"Y","v":0.01},{"t":7.24,"k":"Y","v":-0.04},{"t":7.76,"k":"Y","v":-0.08},{"t":8.14,"k":"Y","v":-0.1},{"t":8.65,"k":"Y","v":-0.09},{"t":9.17,"k":"Y","v":-0.06},{"t":9.55,"k":"Y","v":-0.04},{"t":9.81,"k":"Y","v":-0.15},{"t":10.19,"k":"Y","v":-0.21},{"t":10.58,"k":"Y","v":-0.23},{"t":10.83,"k":"Y","v":-0.15},{"t":11.03,"k":"Y","v":-0.16},{"t":11.22,"k":"Y","v":-0.22},{"t":11.47,"k":"Y","v":-0.18},{"t":11.99,"k":"Y","v":-0.16},{"t":12.5,"k":"Y","v":-0.13},{"t":12.76,"k":"Y","v":-0.06},{"t":13.01,"k":"Y","v":0.01},{"t":13.53,"k":"Y","v":0.04},{"t":13.78,"k":"Y","v":0.03},{"t":14.17,"k":"Y","v":-0.04},{"t":14.55,"k":"Y","v":-0.08},{"t":15.06,"k":"Y","v":-0.09},{"t":15.45,"k":"Y","v":-0.04},{"t":15.71,"k":"Y","v":-0.08},{"t":15.96,"k":"Y","v":-0.15},{"t":16.35,"k":"Y","v":-0.16},{"t":16.86,"k":"Y","v":-0.15},{"t":17.37,"k":"Y","v":-0.17},{"t":17.76,"k":"Y","v":-0.23},{"t":18.01,"k":"Y","v":-0.27},{"t":18.4,"k":"Y","v":-0.28},{"t":18.91,"k":"Y","v":-0.3},{"t":19.29,"k":"Y","v":-0.26},{"t":19.68,"k":"Y","v":-0.22},{"t":20,"k":"Y","v":-0.1}
]
},
"spacing": 61,
"vconcat": [
{
  "width": 958, "height": 59,
  "view": {"stroke": "#404040", "strokeWidth": 1.4},
  "data": {"name": "leg"},
  "layer": [
    {"transform": [{"filter": "datum.g == 's'"}], "mark": {"type": "circle", "size": 18, "opacity": 1, "dy": -1},
     "encoding": {"x": {"field": "i", "type": "quantitative", "scale": {"domain": [-0.263, 5.739], "nice": false, "zero": false}, "axis": null},
                  "color": {"field": "c", "type": "nominal", "scale": {"domain": ["X","Y","Z"], "range": ["#0000ff","#008000","#ff0000"]}, "legend": null}}},
    {"transform": [{"filter": "datum.g == 'r'"}], "mark": {"type": "tick", "orient": "horizontal", "size": 60, "thickness": 1.5, "opacity": 1, "dy": -1},
     "encoding": {"x": {"field": "i", "type": "quantitative", "scale": {"domain": [-0.263, 5.739], "nice": false, "zero": false}, "axis": null},
                  "color": {"field": "c", "type": "nominal", "scale": {"domain": ["X","Y","Z"], "range": ["#0000ff","#008000","#ff0000"]}, "legend": null}}},
    {"mark": {"type": "text", "align": "left", "baseline": "alphabetic", "dx": 37, "dy": 1.5, "fontSize": 28, "font": "Liberation Sans", "color": "#000"},
     "encoding": {"x": {"field": "i", "type": "quantitative", "scale": {"domain": [-0.263, 5.739], "nice": false, "zero": false}, "axis": null}, "text": {"field": "c"}}},
    {"mark": {"type": "text", "align": "left", "baseline": "alphabetic", "dx": 55, "dy": 16.5, "fontSize": 23, "font": "Liberation Sans", "color": "#000"},
     "encoding": {"x": {"field": "i", "type": "quantitative", "scale": {"domain": [-0.263, 5.739], "nice": false, "zero": false}, "axis": null}, "text": {"field": "s"}}}
  ]
},
{
  "spacing": 12,
  "vconcat": [
  {
    "spacing": 76,
    "hconcat": [
      {
        "width": 434, "height": 297,
        "title": {"text": "(a)  Thigh accel"},
        "layer": [
          {"data": {"name": "a_s"}, "transform": [{"fold": ["X","Y","Z"], "as": ["k","v"]}], "mark": {"type": "circle", "size": 6, "opacity": 1, "clip": true},
           "encoding": {"x": {"field": "t", "type": "quantitative", "scale": {"domain": [6,20], "range": [59,434], "nice": false, "zero": false}, "axis": {"values": [10,15,20], "title": "Time [s]"}},
                        "y": {"field": "v", "type": "quantitative", "scale": {"domain": [-12,12], "nice": false}, "axis": {"values": [-10,-5,0,5,10], "title": "Lin. Accel. [m/s²]", "titlePadding": 4, "offset": -59}},
                        "color": {"field": "k", "type": "nominal", "scale": {"domain": ["X","Y","Z"], "range": ["#0000ff","#008000","#ff0000"]}, "legend": null}}},
          {"data": {"name": "a_r"}, "mark": {"type": "line", "strokeWidth": 1, "clip": true},
           "encoding": {"x": {"field": "t", "type": "quantitative"}, "y": {"field": "v", "type": "quantitative"},
                        "color": {"field": "k", "type": "nominal", "scale": {"domain": ["X","Y","Z"], "range": ["#0000ff","#008000","#ff0000"]}, "legend": null}}}
        ]
      },
      {
        "width": 373, "height": 296,
        "title": {"text": "(b)  Calf accel"},
        "layer": [
          {"data": {"name": "b_s"}, "transform": [{"fold": ["X","Y","Z"], "as": ["k","v"]}], "mark": {"type": "circle", "size": 6, "opacity": 1, "clip": true},
           "encoding": {"x": {"field": "t", "type": "quantitative", "scale": {"domain": [6,20], "nice": false, "zero": false}, "axis": {"values": [10,15,20], "title": "Time [s]"}},
                        "y": {"field": "v", "type": "quantitative", "scale": {"domain": [-12,12], "nice": false}, "axis": {"values": [-10,-5,0,5,10], "title": "Lin. Accel. [m/s²]", "titlePadding": 8}},
                        "color": {"field": "k", "type": "nominal", "scale": {"domain": ["X","Y","Z"], "range": ["#0000ff","#008000","#ff0000"]}, "legend": null}}},
          {"data": {"name": "b_r"}, "mark": {"type": "line", "strokeWidth": 1, "clip": true},
           "encoding": {"x": {"field": "t", "type": "quantitative"}, "y": {"field": "v", "type": "quantitative"},
                        "color": {"field": "k", "type": "nominal", "scale": {"domain": ["X","Y","Z"], "range": ["#0000ff","#008000","#ff0000"]}, "legend": null}}}
        ]
      }
    ]
  },
  {
    "spacing": 96,
    "hconcat": [
      {
        "width": 422, "height": 287,
        "title": {"text": "(c)  Thigh gyro"},
        "layer": [
          {"data": {"name": "c_s"}, "transform": [{"fold": ["X","Y","Z"], "as": ["k","v"]}], "mark": {"type": "circle", "size": 8, "opacity": 1, "clip": true},
           "encoding": {"x": {"field": "t", "type": "quantitative", "scale": {"domain": [6,20], "range": [53,422], "nice": false, "zero": false}, "axis": {"values": [10,15,20], "title": "Time [s]"}},
                        "y": {"field": "v", "type": "quantitative", "scale": {"domain": [-3,3], "nice": false}, "axis": {"values": [-3,-2,-1,0,1,2,3], "title": "Ang. Velo. [rad/s]", "titlePadding": 4, "offset": -53}},
                        "color": {"field": "k", "type": "nominal", "scale": {"domain": ["X","Y","Z"], "range": ["#0000ff","#008000","#ff0000"]}, "legend": null}}},
          {"data": {"name": "c_r"}, "mark": {"type": "line", "strokeWidth": 1, "clip": true},
           "encoding": {"x": {"field": "t", "type": "quantitative"}, "y": {"field": "v", "type": "quantitative"},
                        "color": {"field": "k", "type": "nominal", "scale": {"domain": ["X","Y","Z"], "range": ["#0000ff","#008000","#ff0000"]}, "legend": null}}}
        ]
      },
      {
        "width": 369, "height": 287,
        "title": {"text": "(d)  Calf gyro"},
        "layer": [
          {"data": {"name": "d_s"}, "transform": [{"fold": ["X","Y","Z"], "as": ["k","v"]}], "mark": {"type": "circle", "size": 8, "opacity": 1, "clip": true},
           "encoding": {"x": {"field": "t", "type": "quantitative", "scale": {"domain": [6,20], "nice": false, "zero": false}, "axis": {"values": [10,15,20], "title": "Time [s]"}},
                        "y": {"field": "v", "type": "quantitative", "scale": {"domain": [-3,3], "nice": false}, "axis": {"values": [-3,-2,-1,0,1,2,3], "title": "Ang. Velo. [rad/s]", "titlePadding": 5}},
                        "color": {"field": "k", "type": "nominal", "scale": {"domain": ["X","Y","Z"], "range": ["#0000ff","#008000","#ff0000"]}, "legend": null}}},
          {"data": {"name": "d_r"}, "mark": {"type": "line", "strokeWidth": 1, "clip": true},
           "encoding": {"x": {"field": "t", "type": "quantitative"}, "y": {"field": "v", "type": "quantitative"},
                        "color": {"field": "k", "type": "nominal", "scale": {"domain": ["X","Y","Z"], "range": ["#0000ff","#008000","#ff0000"]}, "legend": null}}}
        ]
      }
    ]
  },
  {
    "spacing": 86,
    "hconcat": [
      {
        "width": 426, "height": 287,
        "title": {"text": "(e)  Hip joint"},
        "data": {"name": "e_r"},
        "mark": {"type": "line", "strokeWidth": 1, "clip": true},
        "encoding": {"x": {"field": "t", "type": "quantitative", "scale": {"domain": [6,20], "range": [63,426], "nice": false, "zero": false}, "axis": {"values": [10,15,20], "title": "Time [s]"}},
                     "y": {"field": "v", "type": "quantitative", "scale": {"domain": [-0.5,3], "nice": false, "zero": false}, "axis": {"values": [-0.5,0,0.5,1,1.5,2,2.5,3], "title": "Angle [rad]", "titlePadding": 2, "offset": -63}},
                     "color": {"field": "k", "type": "nominal", "scale": {"domain": ["X","Y","Z"], "range": ["#0000ff","#008000","#ff0000"]}, "legend": null}}
      },
      {
        "width": 364, "height": 286,
        "title": {"text": "(f)  Knee joint"},
        "data": {"name": "f_r"},
        "mark": {"type": "line", "strokeWidth": 1, "clip": true},
        "encoding": {"x": {"field": "t", "type": "quantitative", "scale": {"domain": [6,20], "nice": false, "zero": false}, "axis": {"values": [10,15,20], "title": "Time [s]"}},
                     "y": {"field": "v", "type": "quantitative", "scale": {"domain": [-2.5,0.5], "nice": false, "zero": false}, "axis": {"values": [-2.5,-2,-1.5,-1,-0.5,0,0.5], "title": "Angle [rad]", "titlePadding": 5}},
                     "color": {"field": "k", "type": "nominal", "scale": {"domain": ["X","Y","Z"], "range": ["#0000ff","#008000","#ff0000"]}, "legend": null}}
      }
    ]
  }
  ]
}
]
}
